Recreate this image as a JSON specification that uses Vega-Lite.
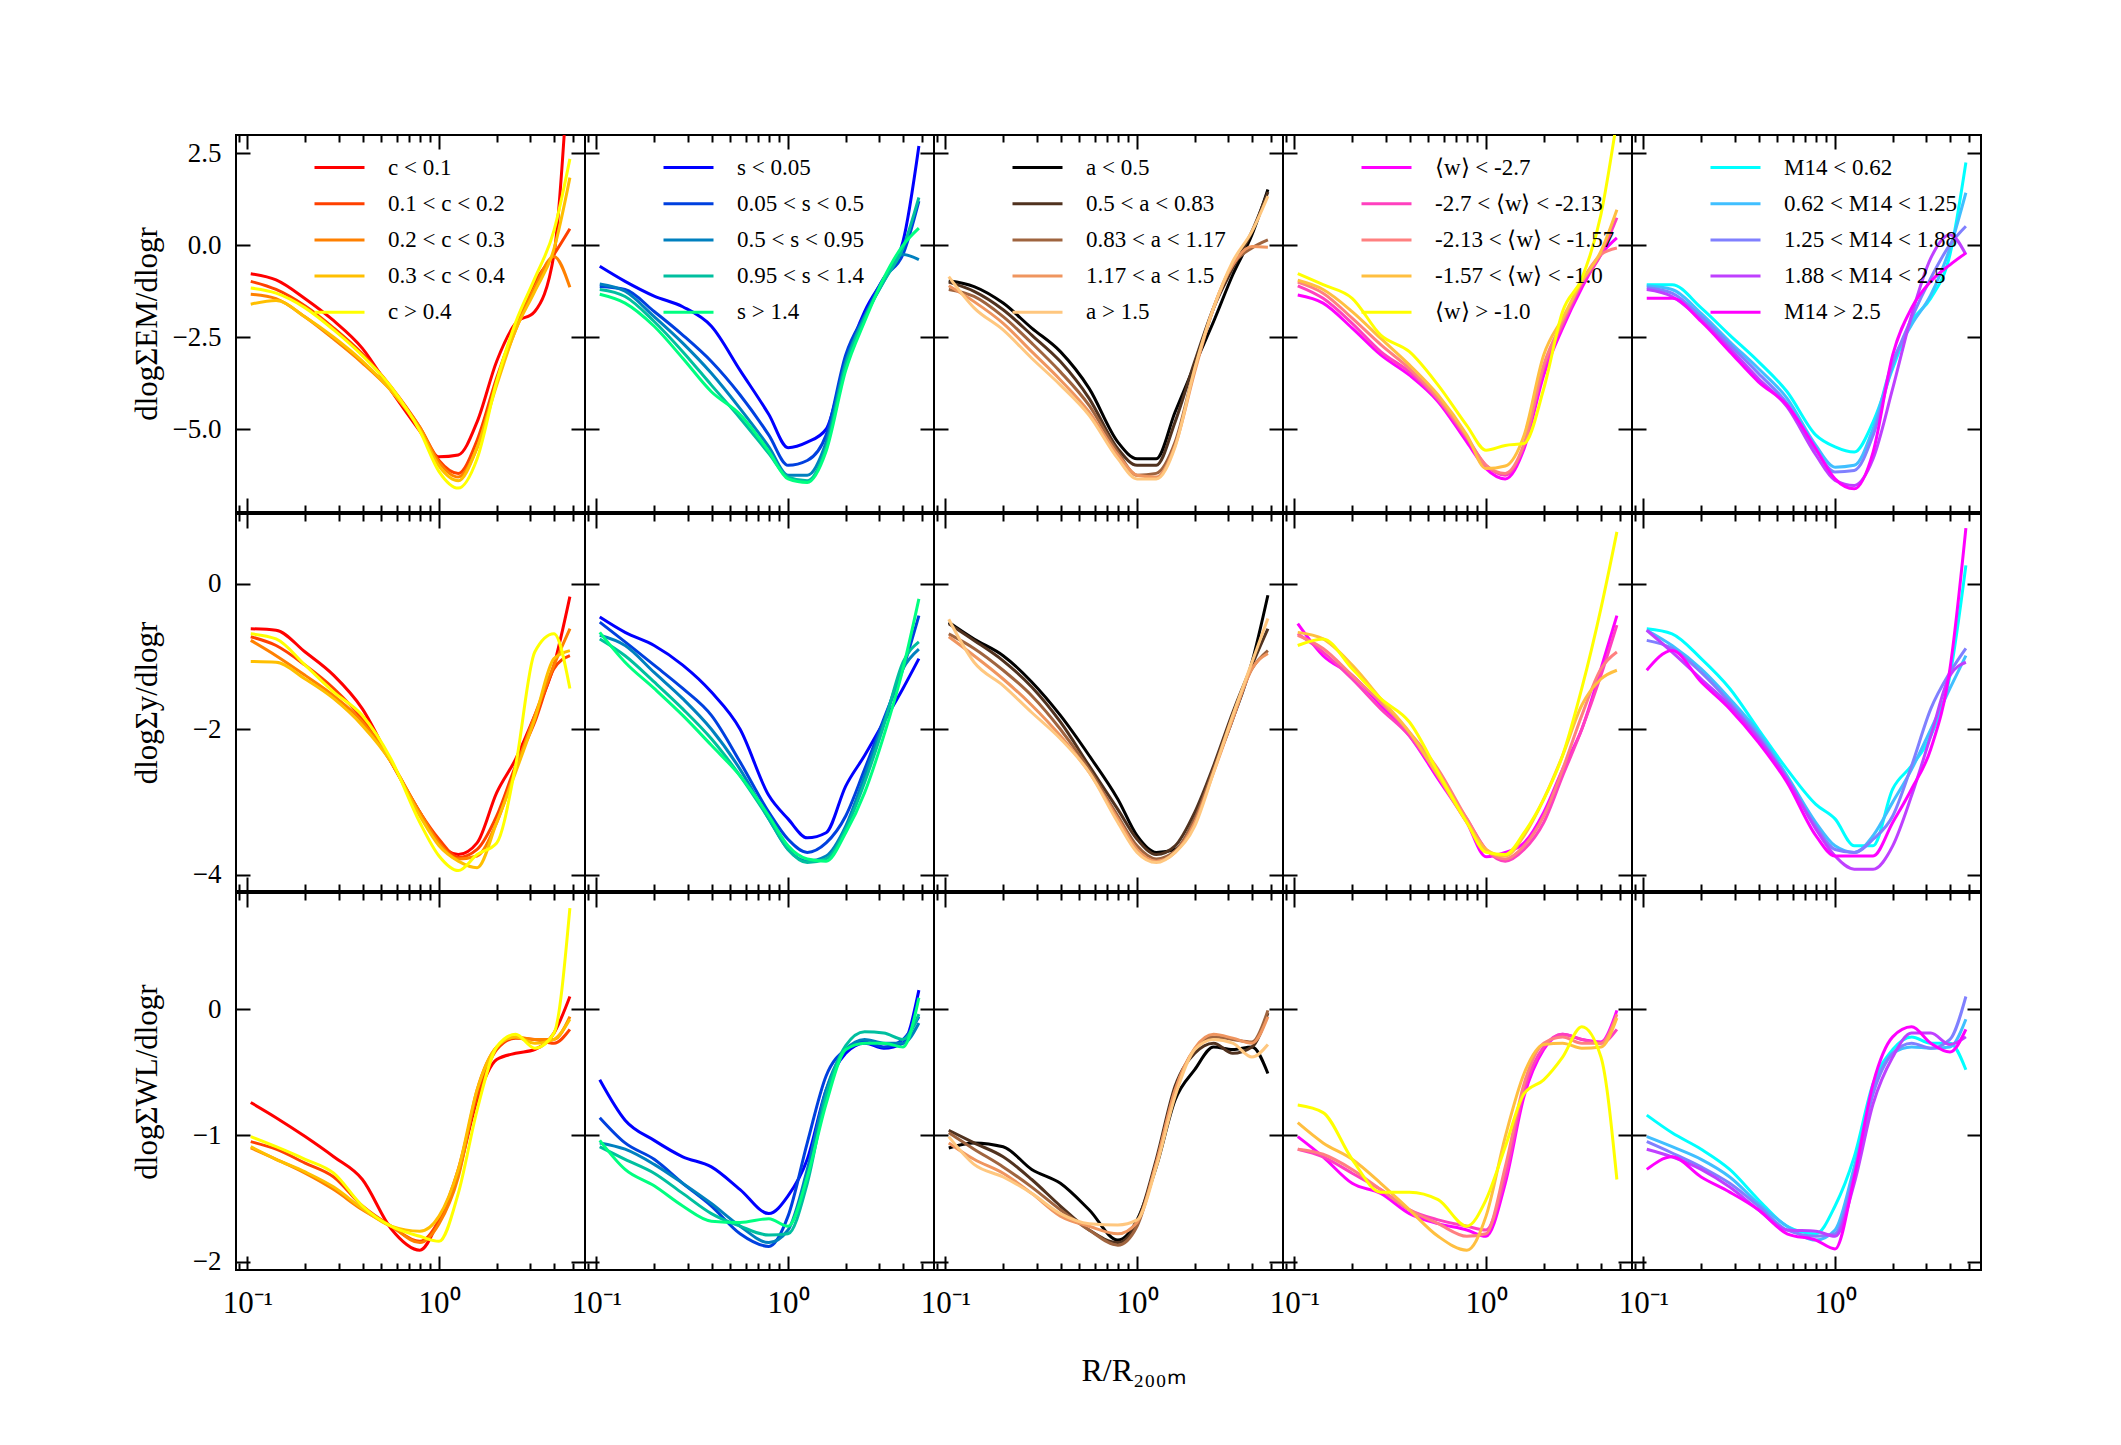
{
"$schema": "https://vega.github.io/schema/vega-lite/v6.json",
"background": "white",
"padding": {"left": 130, "top": 133, "right": 100, "bottom": 50},
"config": {
 "view": {"stroke": "black", "strokeWidth": 2},
 "axis": {"domain": false, "grid": false, "tickColor": "black", "tickWidth": 2, "tickSize": -14, "labels": false, "labelFont": "Liberation Serif", "labelColor": "black", "labelFontSize": 27, "labelOverlap": false, "labelFlush": false, "labelBound": false, "titleFont": "Liberation Serif", "titleColor": "black", "titleFontWeight": "normal", "titleFontSize": 31},
 "axisX": {"labelPadding": 32, "labelFontSize": 31},
 "axisY": {"labelPadding": 29},
 "legend": {"orient": "none", "direction": "vertical", "padding": 0, "labelFont": "Liberation Serif", "labelFontSize": 23, "labelColor": "black", "symbolType": "M-2,0H2", "symbolSize": 625, "symbolStrokeWidth": 3, "rowPadding": 10.2, "labelOffset": 34.5, "labelLimit": 400},
 "concat": {"spacing": 0}
},
"datasets": {
"e0": [
{"g":0,"x":0.104,"y":-0.77},{"g":0,"x":0.141,"y":-0.94},{"g":0,"x":0.2,"y":-1.45},{"g":0,"x":0.282,"y":-2.05},{"g":0,"x":0.398,"y":-2.8},{"g":0,"x":0.562,"y":-3.95},{"g":0,"x":0.794,"y":-5.05},{"g":0,"x":1,"y":-5.75},{"g":0,"x":1.26,"y":-5.7},{"g":0,"x":1.58,"y":-4.8},{"g":0,"x":2,"y":-3.15},{"g":0,"x":2.51,"y":-2.12},{"g":0,"x":3.16,"y":-1.8},{"g":0,"x":3.98,"y":-0.25},{"g":0,"x":4.82,"y":5.5},
{"g":1,"x":0.104,"y":-0.98},{"g":1,"x":0.141,"y":-1.2},{"g":1,"x":0.2,"y":-1.65},{"g":1,"x":0.282,"y":-2.25},{"g":1,"x":0.398,"y":-2.95},{"g":1,"x":0.562,"y":-3.85},{"g":1,"x":0.794,"y":-4.95},{"g":1,"x":1,"y":-5.85},{"g":1,"x":1.26,"y":-6.2},{"g":1,"x":1.58,"y":-5.3},{"g":1,"x":2,"y":-3.6},{"g":1,"x":2.51,"y":-2.2},{"g":1,"x":3.16,"y":-1.0},{"g":1,"x":3.98,"y":-0.25},{"g":1,"x":4.82,"y":0.45},
{"g":2,"x":0.104,"y":-1.33},{"g":2,"x":0.141,"y":-1.45},{"g":2,"x":0.2,"y":-1.95},{"g":2,"x":0.282,"y":-2.55},{"g":2,"x":0.398,"y":-3.2},{"g":2,"x":0.562,"y":-3.95},{"g":2,"x":0.794,"y":-4.95},{"g":2,"x":1,"y":-5.9},{"g":2,"x":1.26,"y":-6.3},{"g":2,"x":1.58,"y":-5.5},{"g":2,"x":2,"y":-3.7},{"g":2,"x":2.51,"y":-2.3},{"g":2,"x":3.16,"y":-1.15},{"g":2,"x":3.98,"y":-0.3},{"g":2,"x":4.82,"y":-1.14},
{"g":3,"x":0.104,"y":-1.6},{"g":3,"x":0.141,"y":-1.5},{"g":3,"x":0.2,"y":-1.95},{"g":3,"x":0.282,"y":-2.5},{"g":3,"x":0.398,"y":-3.15},{"g":3,"x":0.562,"y":-3.95},{"g":3,"x":0.794,"y":-5.0},{"g":3,"x":1,"y":-6.0},{"g":3,"x":1.26,"y":-6.4},{"g":3,"x":1.58,"y":-5.5},{"g":3,"x":2,"y":-3.8},{"g":3,"x":2.51,"y":-2.3},{"g":3,"x":3.16,"y":-1.25},{"g":3,"x":3.98,"y":-0.1},{"g":3,"x":4.82,"y":1.84},
{"g":4,"x":0.104,"y":-1.16},{"g":4,"x":0.141,"y":-1.3},{"g":4,"x":0.2,"y":-1.7},{"g":4,"x":0.282,"y":-2.3},{"g":4,"x":0.398,"y":-3.0},{"g":4,"x":0.562,"y":-3.85},{"g":4,"x":0.794,"y":-5.05},{"g":4,"x":1,"y":-6.15},{"g":4,"x":1.26,"y":-6.6},{"g":4,"x":1.58,"y":-5.8},{"g":4,"x":2,"y":-3.7},{"g":4,"x":2.51,"y":-2.1},{"g":4,"x":3.16,"y":-0.9},{"g":4,"x":3.98,"y":0.4},{"g":4,"x":4.82,"y":2.35}
],
"e1": [
{"g":0,"x":0.104,"y":-0.57},{"g":0,"x":0.141,"y":-0.98},{"g":0,"x":0.2,"y":-1.38},{"g":0,"x":0.282,"y":-1.67},{"g":0,"x":0.398,"y":-2.2},{"g":0,"x":0.562,"y":-3.4},{"g":0,"x":0.794,"y":-4.6},{"g":0,"x":1,"y":-5.5},{"g":0,"x":1.26,"y":-5.35},{"g":0,"x":1.58,"y":-5.0},{"g":0,"x":2,"y":-3.15},{"g":0,"x":2.51,"y":-1.8},{"g":0,"x":3.16,"y":-0.9},{"g":0,"x":3.98,"y":0.1},{"g":0,"x":4.82,"y":2.7},
{"g":1,"x":0.104,"y":-1.12},{"g":1,"x":0.141,"y":-1.2},{"g":1,"x":0.2,"y":-1.8},{"g":1,"x":0.282,"y":-2.44},{"g":1,"x":0.398,"y":-3.16},{"g":1,"x":0.562,"y":-4.07},{"g":1,"x":0.794,"y":-5.16},{"g":1,"x":1,"y":-5.98},{"g":1,"x":1.26,"y":-5.85},{"g":1,"x":1.58,"y":-5.16},{"g":1,"x":2,"y":-2.98},{"g":1,"x":2.51,"y":-1.9},{"g":1,"x":3.16,"y":-0.89},{"g":1,"x":3.98,"y":-0.25},{"g":1,"x":4.82,"y":1.2},
{"g":2,"x":0.104,"y":-1.05},{"g":2,"x":0.141,"y":-1.25},{"g":2,"x":0.2,"y":-1.94},{"g":2,"x":0.282,"y":-2.66},{"g":2,"x":0.398,"y":-3.48},{"g":2,"x":0.562,"y":-4.44},{"g":2,"x":0.794,"y":-5.48},{"g":2,"x":1,"y":-6.25},{"g":2,"x":1.26,"y":-6.25},{"g":2,"x":1.58,"y":-5.35},{"g":2,"x":2,"y":-3.16},{"g":2,"x":2.51,"y":-1.94},{"g":2,"x":3.16,"y":-0.98},{"g":2,"x":3.98,"y":-0.25},{"g":2,"x":4.82,"y":-0.39},
{"g":3,"x":0.104,"y":-1.2},{"g":3,"x":0.141,"y":-1.39},{"g":3,"x":0.2,"y":-2.07},{"g":3,"x":0.282,"y":-2.89},{"g":3,"x":0.398,"y":-3.8},{"g":3,"x":0.562,"y":-4.7},{"g":3,"x":0.794,"y":-5.66},{"g":3,"x":1,"y":-6.3},{"g":3,"x":1.26,"y":-6.4},{"g":3,"x":1.58,"y":-5.5},{"g":3,"x":2,"y":-3.25},{"g":3,"x":2.51,"y":-1.98},{"g":3,"x":3.16,"y":-0.98},{"g":3,"x":3.98,"y":-0.07},{"g":3,"x":4.82,"y":1.3},
{"g":4,"x":0.104,"y":-1.33},{"g":4,"x":0.141,"y":-1.57},{"g":4,"x":0.2,"y":-2.2},{"g":4,"x":0.282,"y":-3.07},{"g":4,"x":0.398,"y":-3.98},{"g":4,"x":0.562,"y":-4.6},{"g":4,"x":0.794,"y":-5.6},{"g":4,"x":1,"y":-6.35},{"g":4,"x":1.26,"y":-6.45},{"g":4,"x":1.58,"y":-5.6},{"g":4,"x":2,"y":-3.4},{"g":4,"x":2.51,"y":-2.07},{"g":4,"x":3.16,"y":-0.89},{"g":4,"x":3.98,"y":0.0},{"g":4,"x":4.82,"y":0.47}
],
"e2": [
{"g":0,"x":0.104,"y":-0.96},{"g":0,"x":0.141,"y":-1.12},{"g":0,"x":0.2,"y":-1.57},{"g":0,"x":0.282,"y":-2.25},{"g":0,"x":0.398,"y":-2.89},{"g":0,"x":0.562,"y":-3.89},{"g":0,"x":0.794,"y":-5.35},{"g":0,"x":1,"y":-5.8},{"g":0,"x":1.26,"y":-5.8},{"g":0,"x":1.58,"y":-4.53},{"g":0,"x":2,"y":-3.25},{"g":0,"x":2.51,"y":-2.07},{"g":0,"x":3.16,"y":-0.8},{"g":0,"x":3.98,"y":0.29},{"g":0,"x":4.82,"y":1.52},
{"g":1,"x":0.104,"y":-1.0},{"g":1,"x":0.141,"y":-1.25},{"g":1,"x":0.2,"y":-1.75},{"g":1,"x":0.282,"y":-2.44},{"g":1,"x":0.398,"y":-3.16},{"g":1,"x":0.562,"y":-4.16},{"g":1,"x":0.794,"y":-5.53},{"g":1,"x":1,"y":-5.98},{"g":1,"x":1.26,"y":-5.98},{"g":1,"x":1.58,"y":-4.8},{"g":1,"x":2,"y":-3.16},{"g":1,"x":2.51,"y":-1.7},{"g":1,"x":3.16,"y":-0.62},{"g":1,"x":3.98,"y":0.38},{"g":1,"x":4.82,"y":1.45},
{"g":2,"x":0.104,"y":-1.2},{"g":2,"x":0.141,"y":-1.39},{"g":2,"x":0.2,"y":-1.94},{"g":2,"x":0.282,"y":-2.66},{"g":2,"x":0.398,"y":-3.44},{"g":2,"x":0.562,"y":-4.35},{"g":2,"x":0.794,"y":-5.62},{"g":2,"x":1,"y":-6.25},{"g":2,"x":1.26,"y":-6.2},{"g":2,"x":1.58,"y":-5.35},{"g":2,"x":2,"y":-3.35},{"g":2,"x":2.51,"y":-1.7},{"g":2,"x":3.16,"y":-0.53},{"g":2,"x":3.98,"y":-0.07},{"g":2,"x":4.82,"y":0.15},
{"g":3,"x":0.104,"y":-1.1},{"g":3,"x":0.141,"y":-1.53},{"g":3,"x":0.2,"y":-2.12},{"g":3,"x":0.282,"y":-2.89},{"g":3,"x":0.398,"y":-3.66},{"g":3,"x":0.562,"y":-4.53},{"g":3,"x":0.794,"y":-5.7},{"g":3,"x":1,"y":-6.25},{"g":3,"x":1.26,"y":-6.3},{"g":3,"x":1.58,"y":-5.44},{"g":3,"x":2,"y":-3.44},{"g":3,"x":2.51,"y":-1.7},{"g":3,"x":3.16,"y":-0.53},{"g":3,"x":3.98,"y":-0.03},{"g":3,"x":4.82,"y":-0.05},
{"g":4,"x":0.104,"y":-0.85},{"g":4,"x":0.141,"y":-1.7},{"g":4,"x":0.2,"y":-2.3},{"g":4,"x":0.282,"y":-3.07},{"g":4,"x":0.398,"y":-3.8},{"g":4,"x":0.562,"y":-4.62},{"g":4,"x":0.794,"y":-5.8},{"g":4,"x":1,"y":-6.35},{"g":4,"x":1.26,"y":-6.35},{"g":4,"x":1.58,"y":-5.48},{"g":4,"x":2,"y":-3.35},{"g":4,"x":2.51,"y":-1.7},{"g":4,"x":3.16,"y":-0.44},{"g":4,"x":3.98,"y":0.38},{"g":4,"x":4.82,"y":1.34}
],
"e3": [
{"g":0,"x":0.104,"y":-1.35},{"g":0,"x":0.141,"y":-1.57},{"g":0,"x":0.2,"y":-2.25},{"g":0,"x":0.282,"y":-2.98},{"g":0,"x":0.398,"y":-3.53},{"g":0,"x":0.562,"y":-4.25},{"g":0,"x":0.794,"y":-5.35},{"g":0,"x":1,"y":-6.07},{"g":0,"x":1.26,"y":-6.35},{"g":0,"x":1.58,"y":-5.53},{"g":0,"x":2,"y":-3.53},{"g":0,"x":2.51,"y":-2.25},{"g":0,"x":3.16,"y":-1.16},{"g":0,"x":3.98,"y":-0.25},{"g":0,"x":4.82,"y":0.2},
{"g":1,"x":0.104,"y":-1.1},{"g":1,"x":0.141,"y":-1.44},{"g":1,"x":0.2,"y":-2.12},{"g":1,"x":0.282,"y":-2.89},{"g":1,"x":0.398,"y":-3.44},{"g":1,"x":0.562,"y":-4.2},{"g":1,"x":0.794,"y":-5.25},{"g":1,"x":1,"y":-5.98},{"g":1,"x":1.26,"y":-6.25},{"g":1,"x":1.58,"y":-5.44},{"g":1,"x":2,"y":-3.35},{"g":1,"x":2.51,"y":-2.16},{"g":1,"x":3.16,"y":-1.07},{"g":1,"x":3.98,"y":-0.25},{"g":1,"x":4.82,"y":0.75},
{"g":2,"x":0.104,"y":-1.0},{"g":2,"x":0.141,"y":-1.3},{"g":2,"x":0.2,"y":-1.98},{"g":2,"x":0.282,"y":-2.7},{"g":2,"x":0.398,"y":-3.35},{"g":2,"x":0.562,"y":-4.16},{"g":2,"x":0.794,"y":-5.2},{"g":2,"x":1,"y":-5.98},{"g":2,"x":1.26,"y":-6.2},{"g":2,"x":1.58,"y":-5.39},{"g":2,"x":2,"y":-3.25},{"g":2,"x":2.51,"y":-2.07},{"g":2,"x":3.16,"y":-0.98},{"g":2,"x":3.98,"y":-0.25},{"g":2,"x":4.82,"y":-0.07},
{"g":3,"x":0.104,"y":-0.95},{"g":3,"x":0.141,"y":-1.2},{"g":3,"x":0.2,"y":-1.8},{"g":3,"x":0.282,"y":-2.53},{"g":3,"x":0.398,"y":-3.25},{"g":3,"x":0.562,"y":-4.07},{"g":3,"x":0.794,"y":-5.16},{"g":3,"x":1,"y":-6.07},{"g":3,"x":1.26,"y":-6.0},{"g":3,"x":1.58,"y":-5.16},{"g":3,"x":2,"y":-2.98},{"g":3,"x":2.51,"y":-1.98},{"g":3,"x":3.16,"y":-0.98},{"g":3,"x":3.98,"y":-0.16},{"g":3,"x":4.82,"y":0.97},
{"g":4,"x":0.104,"y":-0.77},{"g":4,"x":0.141,"y":-1.07},{"g":4,"x":0.2,"y":-1.44},{"g":4,"x":0.282,"y":-2.44},{"g":4,"x":0.398,"y":-2.89},{"g":4,"x":0.562,"y":-3.8},{"g":4,"x":0.794,"y":-4.9},{"g":4,"x":1,"y":-5.57},{"g":4,"x":1.26,"y":-5.44},{"g":4,"x":1.58,"y":-5.39},{"g":4,"x":2,"y":-3.9},{"g":4,"x":2.51,"y":-1.8},{"g":4,"x":3.16,"y":-0.9},{"g":4,"x":3.98,"y":0.84},{"g":4,"x":4.82,"y":3.4}
],
"e4": [
{"g":0,"x":0.104,"y":-1.07},{"g":0,"x":0.141,"y":-1.07},{"g":0,"x":0.2,"y":-1.7},{"g":0,"x":0.282,"y":-2.44},{"g":0,"x":0.398,"y":-3.16},{"g":0,"x":0.562,"y":-3.98},{"g":0,"x":0.794,"y":-5.16},{"g":0,"x":1,"y":-5.48},{"g":0,"x":1.26,"y":-5.62},{"g":0,"x":1.58,"y":-4.8},{"g":0,"x":2,"y":-3.35},{"g":0,"x":2.51,"y":-2.07},{"g":0,"x":3.16,"y":-1.44},{"g":0,"x":3.98,"y":-0.25},{"g":0,"x":4.82,"y":2.25},
{"g":1,"x":0.104,"y":-1.1},{"g":1,"x":0.141,"y":-1.2},{"g":1,"x":0.2,"y":-1.85},{"g":1,"x":0.282,"y":-2.62},{"g":1,"x":0.398,"y":-3.35},{"g":1,"x":0.562,"y":-4.16},{"g":1,"x":0.794,"y":-5.44},{"g":1,"x":1,"y":-6.03},{"g":1,"x":1.26,"y":-5.98},{"g":1,"x":1.58,"y":-4.98},{"g":1,"x":2,"y":-3.16},{"g":1,"x":2.51,"y":-2.16},{"g":1,"x":3.16,"y":-1.35},{"g":1,"x":3.98,"y":-0.07},{"g":1,"x":4.82,"y":1.43},
{"g":2,"x":0.104,"y":-1.15},{"g":2,"x":0.141,"y":-1.3},{"g":2,"x":0.2,"y":-1.94},{"g":2,"x":0.282,"y":-2.7},{"g":2,"x":0.398,"y":-3.48},{"g":2,"x":0.562,"y":-4.3},{"g":2,"x":0.794,"y":-5.57},{"g":2,"x":1,"y":-6.16},{"g":2,"x":1.26,"y":-6.12},{"g":2,"x":1.58,"y":-5.16},{"g":2,"x":2,"y":-3.25},{"g":2,"x":2.51,"y":-1.98},{"g":2,"x":3.16,"y":-0.89},{"g":2,"x":3.98,"y":0.02},{"g":2,"x":4.82,"y":0.52},
{"g":3,"x":0.104,"y":-1.2},{"g":3,"x":0.141,"y":-1.39},{"g":3,"x":0.2,"y":-2.03},{"g":3,"x":0.282,"y":-2.8},{"g":3,"x":0.398,"y":-3.62},{"g":3,"x":0.562,"y":-4.39},{"g":3,"x":0.794,"y":-5.7},{"g":3,"x":1,"y":-6.39},{"g":3,"x":1.26,"y":-6.53},{"g":3,"x":1.58,"y":-5.8},{"g":3,"x":2,"y":-3.89},{"g":3,"x":2.51,"y":-1.9},{"g":3,"x":3.16,"y":-0.35},{"g":3,"x":3.98,"y":0.29},{"g":3,"x":4.82,"y":-0.25},
{"g":4,"x":0.104,"y":-1.44},{"g":4,"x":0.141,"y":-1.44},{"g":4,"x":0.2,"y":-2.07},{"g":4,"x":0.282,"y":-2.89},{"g":4,"x":0.398,"y":-3.71},{"g":4,"x":0.562,"y":-4.35},{"g":4,"x":0.794,"y":-5.53},{"g":4,"x":1,"y":-6.35},{"g":4,"x":1.26,"y":-6.62},{"g":4,"x":1.58,"y":-5.62},{"g":4,"x":2,"y":-2.98},{"g":4,"x":2.51,"y":-1.7},{"g":4,"x":3.16,"y":-0.98},{"g":4,"x":3.98,"y":-0.53},{"g":4,"x":4.82,"y":-0.21}
],
"s0": [
{"g":0,"x":0.104,"y":-0.62},{"g":0,"x":0.141,"y":-0.64},{"g":0,"x":0.2,"y":-0.94},{"g":0,"x":0.282,"y":-1.26},{"g":0,"x":0.398,"y":-1.72},{"g":0,"x":0.562,"y":-2.45},{"g":0,"x":0.794,"y":-3.14},{"g":0,"x":1,"y":-3.56},{"g":0,"x":1.26,"y":-3.72},{"g":0,"x":1.58,"y":-3.56},{"g":0,"x":2,"y":-2.87},{"g":0,"x":2.51,"y":-2.41},{"g":0,"x":3.16,"y":-1.81},{"g":0,"x":3.98,"y":-1.12},{"g":0,"x":4.82,"y":-0.18},
{"g":1,"x":0.104,"y":-0.73},{"g":1,"x":0.141,"y":-0.85},{"g":1,"x":0.2,"y":-1.12},{"g":1,"x":0.282,"y":-1.44},{"g":1,"x":0.398,"y":-1.86},{"g":1,"x":0.562,"y":-2.45},{"g":1,"x":0.794,"y":-3.14},{"g":1,"x":1,"y":-3.51},{"g":1,"x":1.26,"y":-3.76},{"g":1,"x":1.58,"y":-3.65},{"g":1,"x":2,"y":-3.19},{"g":1,"x":2.51,"y":-2.5},{"g":1,"x":3.16,"y":-1.9},{"g":1,"x":3.98,"y":-1.17},{"g":1,"x":4.82,"y":-0.99},
{"g":2,"x":0.104,"y":-0.78},{"g":2,"x":0.141,"y":-0.99},{"g":2,"x":0.2,"y":-1.26},{"g":2,"x":0.282,"y":-1.54},{"g":2,"x":0.398,"y":-1.9},{"g":2,"x":0.562,"y":-2.45},{"g":2,"x":0.794,"y":-3.14},{"g":2,"x":1,"y":-3.56},{"g":2,"x":1.26,"y":-3.78},{"g":2,"x":1.58,"y":-3.74},{"g":2,"x":2,"y":-3.28},{"g":2,"x":2.51,"y":-2.55},{"g":2,"x":3.16,"y":-1.81},{"g":2,"x":3.98,"y":-1.12},{"g":2,"x":4.82,"y":-0.62},
{"g":3,"x":0.104,"y":-1.07},{"g":3,"x":0.141,"y":-1.08},{"g":3,"x":0.2,"y":-1.31},{"g":3,"x":0.282,"y":-1.58},{"g":3,"x":0.398,"y":-1.95},{"g":3,"x":0.562,"y":-2.45},{"g":3,"x":0.794,"y":-3.19},{"g":3,"x":1,"y":-3.6},{"g":3,"x":1.26,"y":-3.81},{"g":3,"x":1.58,"y":-3.9},{"g":3,"x":2,"y":-3.28},{"g":3,"x":2.51,"y":-2.59},{"g":3,"x":3.16,"y":-1.86},{"g":3,"x":3.98,"y":-1.03},{"g":3,"x":4.82,"y":-0.92},
{"g":4,"x":0.104,"y":-0.69},{"g":4,"x":0.141,"y":-0.76},{"g":4,"x":0.2,"y":-1.12},{"g":4,"x":0.282,"y":-1.49},{"g":4,"x":0.398,"y":-1.81},{"g":4,"x":0.562,"y":-2.41},{"g":4,"x":0.794,"y":-3.28},{"g":4,"x":1,"y":-3.74},{"g":4,"x":1.26,"y":-3.94},{"g":4,"x":1.58,"y":-3.72},{"g":4,"x":2,"y":-3.56},{"g":4,"x":2.51,"y":-2.5},{"g":4,"x":3.16,"y":-0.94},{"g":4,"x":3.98,"y":-0.69},{"g":4,"x":4.82,"y":-1.44}
],
"s1": [
{"g":0,"x":0.104,"y":-0.46},{"g":0,"x":0.141,"y":-0.67},{"g":0,"x":0.2,"y":-0.85},{"g":0,"x":0.282,"y":-1.12},{"g":0,"x":0.398,"y":-1.49},{"g":0,"x":0.562,"y":-2.0},{"g":0,"x":0.794,"y":-2.91},{"g":0,"x":1,"y":-3.23},{"g":0,"x":1.26,"y":-3.49},{"g":0,"x":1.58,"y":-3.42},{"g":0,"x":2,"y":-2.78},{"g":0,"x":2.51,"y":-2.36},{"g":0,"x":3.16,"y":-1.9},{"g":0,"x":3.98,"y":-1.44},{"g":0,"x":4.82,"y":-1.03},
{"g":1,"x":0.104,"y":-0.53},{"g":1,"x":0.141,"y":-0.8},{"g":1,"x":0.2,"y":-1.12},{"g":1,"x":0.282,"y":-1.44},{"g":1,"x":0.398,"y":-1.81},{"g":1,"x":0.562,"y":-2.45},{"g":1,"x":0.794,"y":-3.14},{"g":1,"x":1,"y":-3.51},{"g":1,"x":1.26,"y":-3.69},{"g":1,"x":1.58,"y":-3.56},{"g":1,"x":2,"y":-3.19},{"g":1,"x":2.51,"y":-2.55},{"g":1,"x":3.16,"y":-1.86},{"g":1,"x":3.98,"y":-1.17},{"g":1,"x":4.82,"y":-0.44},
{"g":2,"x":0.104,"y":-0.71},{"g":2,"x":0.141,"y":-0.85},{"g":2,"x":0.2,"y":-1.22},{"g":2,"x":0.282,"y":-1.58},{"g":2,"x":0.398,"y":-2.0},{"g":2,"x":0.562,"y":-2.55},{"g":2,"x":0.794,"y":-3.23},{"g":2,"x":1,"y":-3.65},{"g":2,"x":1.26,"y":-3.81},{"g":2,"x":1.58,"y":-3.74},{"g":2,"x":2,"y":-3.33},{"g":2,"x":2.51,"y":-2.64},{"g":2,"x":3.16,"y":-1.9},{"g":2,"x":3.98,"y":-1.17},{"g":2,"x":4.82,"y":-0.9},
{"g":3,"x":0.104,"y":-0.76},{"g":3,"x":0.141,"y":-0.99},{"g":3,"x":0.2,"y":-1.35},{"g":3,"x":0.282,"y":-1.72},{"g":3,"x":0.398,"y":-2.13},{"g":3,"x":0.562,"y":-2.64},{"g":3,"x":0.794,"y":-3.23},{"g":3,"x":1,"y":-3.65},{"g":3,"x":1.26,"y":-3.83},{"g":3,"x":1.58,"y":-3.78},{"g":3,"x":2,"y":-3.37},{"g":3,"x":2.51,"y":-2.73},{"g":3,"x":3.16,"y":-1.95},{"g":3,"x":3.98,"y":-1.08},{"g":3,"x":4.82,"y":-0.8},
{"g":4,"x":0.104,"y":-0.67},{"g":4,"x":0.141,"y":-1.08},{"g":4,"x":0.2,"y":-1.44},{"g":4,"x":0.282,"y":-1.81},{"g":4,"x":0.398,"y":-2.22},{"g":4,"x":0.562,"y":-2.64},{"g":4,"x":0.794,"y":-3.19},{"g":4,"x":1,"y":-3.6},{"g":4,"x":1.26,"y":-3.78},{"g":4,"x":1.58,"y":-3.81},{"g":4,"x":2,"y":-3.42},{"g":4,"x":2.51,"y":-2.87},{"g":4,"x":3.16,"y":-2.09},{"g":4,"x":3.98,"y":-1.17},{"g":4,"x":4.82,"y":-0.21}
],
"s2": [
{"g":0,"x":0.104,"y":-0.53},{"g":0,"x":0.141,"y":-0.76},{"g":0,"x":0.2,"y":-0.99},{"g":0,"x":0.282,"y":-1.35},{"g":0,"x":0.398,"y":-1.81},{"g":0,"x":0.562,"y":-2.36},{"g":0,"x":0.794,"y":-2.96},{"g":0,"x":1,"y":-3.46},{"g":0,"x":1.26,"y":-3.69},{"g":0,"x":1.58,"y":-3.65},{"g":0,"x":2,"y":-3.23},{"g":0,"x":2.51,"y":-2.55},{"g":0,"x":3.16,"y":-1.86},{"g":0,"x":3.98,"y":-1.08},{"g":0,"x":4.82,"y":-0.16},
{"g":1,"x":0.104,"y":-0.55},{"g":1,"x":0.141,"y":-0.78},{"g":1,"x":0.2,"y":-1.06},{"g":1,"x":0.282,"y":-1.42},{"g":1,"x":0.398,"y":-1.9},{"g":1,"x":0.562,"y":-2.5},{"g":1,"x":0.794,"y":-3.1},{"g":1,"x":1,"y":-3.51},{"g":1,"x":1.26,"y":-3.72},{"g":1,"x":1.58,"y":-3.6},{"g":1,"x":2,"y":-3.14},{"g":1,"x":2.51,"y":-2.5},{"g":1,"x":3.16,"y":-1.77},{"g":1,"x":3.98,"y":-1.12},{"g":1,"x":4.82,"y":-0.62},
{"g":2,"x":0.104,"y":-0.69},{"g":2,"x":0.141,"y":-0.89},{"g":2,"x":0.2,"y":-1.19},{"g":2,"x":0.282,"y":-1.54},{"g":2,"x":0.398,"y":-2.0},{"g":2,"x":0.562,"y":-2.55},{"g":2,"x":0.794,"y":-3.19},{"g":2,"x":1,"y":-3.6},{"g":2,"x":1.26,"y":-3.78},{"g":2,"x":1.58,"y":-3.67},{"g":2,"x":2,"y":-3.23},{"g":2,"x":2.51,"y":-2.55},{"g":2,"x":3.16,"y":-1.81},{"g":2,"x":3.98,"y":-1.17},{"g":2,"x":4.82,"y":-0.92},
{"g":3,"x":0.104,"y":-0.73},{"g":3,"x":0.141,"y":-0.99},{"g":3,"x":0.2,"y":-1.31},{"g":3,"x":0.282,"y":-1.67},{"g":3,"x":0.398,"y":-2.09},{"g":3,"x":0.562,"y":-2.59},{"g":3,"x":0.794,"y":-3.23},{"g":3,"x":1,"y":-3.65},{"g":3,"x":1.26,"y":-3.81},{"g":3,"x":1.58,"y":-3.69},{"g":3,"x":2,"y":-3.28},{"g":3,"x":2.51,"y":-2.59},{"g":3,"x":3.16,"y":-1.86},{"g":3,"x":3.98,"y":-1.17},{"g":3,"x":4.82,"y":-0.96},
{"g":4,"x":0.104,"y":-0.49},{"g":4,"x":0.141,"y":-1.08},{"g":4,"x":0.2,"y":-1.4},{"g":4,"x":0.282,"y":-1.77},{"g":4,"x":0.398,"y":-2.13},{"g":4,"x":0.562,"y":-2.59},{"g":4,"x":0.794,"y":-3.28},{"g":4,"x":1,"y":-3.69},{"g":4,"x":1.26,"y":-3.83},{"g":4,"x":1.58,"y":-3.69},{"g":4,"x":2,"y":-3.33},{"g":4,"x":2.51,"y":-2.59},{"g":4,"x":3.16,"y":-1.81},{"g":4,"x":3.98,"y":-1.08},{"g":4,"x":4.82,"y":-0.48}
],
"s3": [
{"g":0,"x":0.104,"y":-0.55},{"g":0,"x":0.141,"y":-0.99},{"g":0,"x":0.2,"y":-1.26},{"g":0,"x":0.282,"y":-1.67},{"g":0,"x":0.398,"y":-2.09},{"g":0,"x":0.562,"y":-2.68},{"g":0,"x":0.794,"y":-3.28},{"g":0,"x":1,"y":-3.75},{"g":0,"x":1.26,"y":-3.69},{"g":0,"x":1.58,"y":-3.56},{"g":0,"x":2,"y":-3.14},{"g":0,"x":2.51,"y":-2.55},{"g":0,"x":3.16,"y":-2.0},{"g":0,"x":3.98,"y":-1.17},{"g":0,"x":4.82,"y":-0.44},
{"g":1,"x":0.104,"y":-0.69},{"g":1,"x":0.141,"y":-0.94},{"g":1,"x":0.2,"y":-1.31},{"g":1,"x":0.282,"y":-1.72},{"g":1,"x":0.398,"y":-2.09},{"g":1,"x":0.562,"y":-2.64},{"g":1,"x":0.794,"y":-3.23},{"g":1,"x":1,"y":-3.65},{"g":1,"x":1.26,"y":-3.81},{"g":1,"x":1.58,"y":-3.65},{"g":1,"x":2,"y":-3.28},{"g":1,"x":2.51,"y":-2.64},{"g":1,"x":3.16,"y":-2.0},{"g":1,"x":3.98,"y":-1.26},{"g":1,"x":4.82,"y":-0.57},
{"g":2,"x":0.104,"y":-0.71},{"g":2,"x":0.141,"y":-0.89},{"g":2,"x":0.2,"y":-1.26},{"g":2,"x":0.282,"y":-1.63},{"g":2,"x":0.398,"y":-2.04},{"g":2,"x":0.562,"y":-2.55},{"g":2,"x":0.794,"y":-3.23},{"g":2,"x":1,"y":-3.65},{"g":2,"x":1.26,"y":-3.78},{"g":2,"x":1.58,"y":-3.6},{"g":2,"x":2,"y":-3.19},{"g":2,"x":2.51,"y":-2.55},{"g":2,"x":3.16,"y":-1.81},{"g":2,"x":3.98,"y":-1.17},{"g":2,"x":4.82,"y":-0.94},
{"g":3,"x":0.104,"y":-0.67},{"g":3,"x":0.141,"y":-0.76},{"g":3,"x":0.2,"y":-1.12},{"g":3,"x":0.282,"y":-1.58},{"g":3,"x":0.398,"y":-2.04},{"g":3,"x":0.562,"y":-2.64},{"g":3,"x":0.794,"y":-3.28},{"g":3,"x":1,"y":-3.65},{"g":3,"x":1.26,"y":-3.74},{"g":3,"x":1.58,"y":-3.46},{"g":3,"x":2,"y":-2.96},{"g":3,"x":2.51,"y":-2.36},{"g":3,"x":3.16,"y":-1.67},{"g":3,"x":3.98,"y":-1.31},{"g":3,"x":4.82,"y":-1.19},
{"g":4,"x":0.104,"y":-0.85},{"g":4,"x":0.141,"y":-0.76},{"g":4,"x":0.2,"y":-1.17},{"g":4,"x":0.282,"y":-1.58},{"g":4,"x":0.398,"y":-1.9},{"g":4,"x":0.562,"y":-2.59},{"g":4,"x":0.794,"y":-3.28},{"g":4,"x":1,"y":-3.69},{"g":4,"x":1.26,"y":-3.72},{"g":4,"x":1.58,"y":-3.42},{"g":4,"x":2,"y":-2.96},{"g":4,"x":2.51,"y":-2.36},{"g":4,"x":3.16,"y":-1.44},{"g":4,"x":3.98,"y":-0.34},{"g":4,"x":4.82,"y":0.71}
],
"s4": [
{"g":0,"x":0.104,"y":-0.62},{"g":0,"x":0.141,"y":-0.69},{"g":0,"x":0.2,"y":-1.03},{"g":0,"x":0.282,"y":-1.44},{"g":0,"x":0.398,"y":-2.0},{"g":0,"x":0.562,"y":-2.55},{"g":0,"x":0.794,"y":-3.03},{"g":0,"x":1,"y":-3.23},{"g":0,"x":1.26,"y":-3.6},{"g":0,"x":1.58,"y":-3.6},{"g":0,"x":2,"y":-2.82},{"g":0,"x":2.51,"y":-2.5},{"g":0,"x":3.16,"y":-2.09},{"g":0,"x":3.98,"y":-1.26},{"g":0,"x":4.82,"y":0.25},
{"g":1,"x":0.104,"y":-0.64},{"g":1,"x":0.141,"y":-0.85},{"g":1,"x":0.2,"y":-1.17},{"g":1,"x":0.282,"y":-1.58},{"g":1,"x":0.398,"y":-2.04},{"g":1,"x":0.562,"y":-2.64},{"g":1,"x":0.794,"y":-3.28},{"g":1,"x":1,"y":-3.6},{"g":1,"x":1.26,"y":-3.69},{"g":1,"x":1.58,"y":-3.46},{"g":1,"x":2,"y":-3.0},{"g":1,"x":2.51,"y":-2.55},{"g":1,"x":3.16,"y":-2.0},{"g":1,"x":3.98,"y":-1.44},{"g":1,"x":4.82,"y":-0.99},
{"g":2,"x":0.104,"y":-0.78},{"g":2,"x":0.141,"y":-0.89},{"g":2,"x":0.2,"y":-1.22},{"g":2,"x":0.282,"y":-1.63},{"g":2,"x":0.398,"y":-2.09},{"g":2,"x":0.562,"y":-2.68},{"g":2,"x":0.794,"y":-3.33},{"g":2,"x":1,"y":-3.65},{"g":2,"x":1.26,"y":-3.69},{"g":2,"x":1.58,"y":-3.51},{"g":2,"x":2,"y":-3.19},{"g":2,"x":2.51,"y":-2.5},{"g":2,"x":3.16,"y":-1.72},{"g":2,"x":3.98,"y":-1.22},{"g":2,"x":4.82,"y":-0.89},
{"g":3,"x":0.104,"y":-0.64},{"g":3,"x":0.141,"y":-0.94},{"g":3,"x":0.2,"y":-1.31},{"g":3,"x":0.282,"y":-1.67},{"g":3,"x":0.398,"y":-2.13},{"g":3,"x":0.562,"y":-2.68},{"g":3,"x":0.794,"y":-3.37},{"g":3,"x":1,"y":-3.74},{"g":3,"x":1.26,"y":-3.92},{"g":3,"x":1.58,"y":-3.92},{"g":3,"x":2,"y":-3.6},{"g":3,"x":2.51,"y":-2.91},{"g":3,"x":3.16,"y":-2.09},{"g":3,"x":3.98,"y":-1.26},{"g":3,"x":4.82,"y":-1.08},
{"g":4,"x":0.104,"y":-1.19},{"g":4,"x":0.141,"y":-0.92},{"g":4,"x":0.2,"y":-1.35},{"g":4,"x":0.282,"y":-1.72},{"g":4,"x":0.398,"y":-2.18},{"g":4,"x":0.562,"y":-2.73},{"g":4,"x":0.794,"y":-3.46},{"g":4,"x":1,"y":-3.74},{"g":4,"x":1.26,"y":-3.74},{"g":4,"x":1.58,"y":-3.74},{"g":4,"x":2,"y":-3.28},{"g":4,"x":2.51,"y":-2.82},{"g":4,"x":3.16,"y":-2.27},{"g":4,"x":3.98,"y":-1.17},{"g":4,"x":4.82,"y":0.76}
],
"w0": [
{"g":0,"x":0.104,"y":-0.74},{"g":0,"x":0.141,"y":-0.86},{"g":0,"x":0.2,"y":-1.01},{"g":0,"x":0.282,"y":-1.17},{"g":0,"x":0.398,"y":-1.35},{"g":0,"x":0.562,"y":-1.74},{"g":0,"x":0.794,"y":-1.91},{"g":0,"x":1,"y":-1.67},{"g":0,"x":1.26,"y":-1.3},{"g":0,"x":1.58,"y":-0.72},{"g":0,"x":2,"y":-0.4},{"g":0,"x":2.51,"y":-0.35},{"g":0,"x":3.16,"y":-0.32},{"g":0,"x":3.98,"y":-0.19},{"g":0,"x":4.82,"y":0.1},
{"g":1,"x":0.104,"y":-1.05},{"g":1,"x":0.141,"y":-1.11},{"g":1,"x":0.2,"y":-1.22},{"g":1,"x":0.282,"y":-1.33},{"g":1,"x":0.398,"y":-1.56},{"g":1,"x":0.562,"y":-1.72},{"g":1,"x":0.794,"y":-1.84},{"g":1,"x":1,"y":-1.67},{"g":1,"x":1.26,"y":-1.27},{"g":1,"x":1.58,"y":-0.69},{"g":1,"x":2,"y":-0.32},{"g":1,"x":2.51,"y":-0.23},{"g":1,"x":3.16,"y":-0.24},{"g":1,"x":3.98,"y":-0.27},{"g":1,"x":4.82,"y":-0.16},
{"g":2,"x":0.104,"y":-1.1},{"g":2,"x":0.141,"y":-1.19},{"g":2,"x":0.2,"y":-1.3},{"g":2,"x":0.282,"y":-1.43},{"g":2,"x":0.398,"y":-1.59},{"g":2,"x":0.562,"y":-1.72},{"g":2,"x":0.794,"y":-1.85},{"g":2,"x":1,"y":-1.7},{"g":2,"x":1.26,"y":-1.33},{"g":2,"x":1.58,"y":-0.64},{"g":2,"x":2,"y":-0.3},{"g":2,"x":2.51,"y":-0.22},{"g":2,"x":3.16,"y":-0.24},{"g":2,"x":3.98,"y":-0.24},{"g":2,"x":4.82,"y":-0.06},
{"g":3,"x":0.104,"y":-1.09},{"g":3,"x":0.141,"y":-1.19},{"g":3,"x":0.2,"y":-1.29},{"g":3,"x":0.282,"y":-1.41},{"g":3,"x":0.398,"y":-1.58},{"g":3,"x":0.562,"y":-1.72},{"g":3,"x":0.794,"y":-1.76},{"g":3,"x":1,"y":-1.64},{"g":3,"x":1.26,"y":-1.27},{"g":3,"x":1.58,"y":-0.64},{"g":3,"x":2,"y":-0.3},{"g":3,"x":2.51,"y":-0.22},{"g":3,"x":3.16,"y":-0.27},{"g":3,"x":3.98,"y":-0.24},{"g":3,"x":4.82,"y":-0.08},
{"g":4,"x":0.104,"y":-1.01},{"g":4,"x":0.141,"y":-1.09},{"g":4,"x":0.2,"y":-1.19},{"g":4,"x":0.282,"y":-1.3},{"g":4,"x":0.398,"y":-1.56},{"g":4,"x":0.562,"y":-1.72},{"g":4,"x":0.794,"y":-1.8},{"g":4,"x":1,"y":-1.84},{"g":4,"x":1.26,"y":-1.46},{"g":4,"x":1.58,"y":-0.8},{"g":4,"x":2,"y":-0.3},{"g":4,"x":2.51,"y":-0.2},{"g":4,"x":3.16,"y":-0.31},{"g":4,"x":3.98,"y":-0.19},{"g":4,"x":4.82,"y":0.8}
],
"w1": [
{"g":0,"x":0.104,"y":-0.56},{"g":0,"x":0.141,"y":-0.88},{"g":0,"x":0.2,"y":-1.04},{"g":0,"x":0.282,"y":-1.17},{"g":0,"x":0.398,"y":-1.25},{"g":0,"x":0.562,"y":-1.43},{"g":0,"x":0.794,"y":-1.62},{"g":0,"x":1,"y":-1.48},{"g":0,"x":1.26,"y":-1.19},{"g":0,"x":1.58,"y":-0.64},{"g":0,"x":2,"y":-0.35},{"g":0,"x":2.51,"y":-0.27},{"g":0,"x":3.16,"y":-0.31},{"g":0,"x":3.98,"y":-0.27},{"g":0,"x":4.82,"y":0.15},
{"g":1,"x":0.104,"y":-0.86},{"g":1,"x":0.141,"y":-1.06},{"g":1,"x":0.2,"y":-1.19},{"g":1,"x":0.282,"y":-1.38},{"g":1,"x":0.398,"y":-1.56},{"g":1,"x":0.562,"y":-1.78},{"g":1,"x":0.794,"y":-1.88},{"g":1,"x":1,"y":-1.64},{"g":1,"x":1.26,"y":-1.06},{"g":1,"x":1.58,"y":-0.53},{"g":1,"x":2,"y":-0.32},{"g":1,"x":2.51,"y":-0.26},{"g":1,"x":3.16,"y":-0.3},{"g":1,"x":3.98,"y":-0.24},{"g":1,"x":4.82,"y":-0.06},
{"g":2,"x":0.104,"y":-1.06},{"g":2,"x":0.141,"y":-1.11},{"g":2,"x":0.2,"y":-1.23},{"g":2,"x":0.282,"y":-1.38},{"g":2,"x":0.398,"y":-1.54},{"g":2,"x":0.562,"y":-1.72},{"g":2,"x":0.794,"y":-1.85},{"g":2,"x":1,"y":-1.75},{"g":2,"x":1.26,"y":-1.27},{"g":2,"x":1.58,"y":-0.64},{"g":2,"x":2,"y":-0.32},{"g":2,"x":2.51,"y":-0.24},{"g":2,"x":3.16,"y":-0.27},{"g":2,"x":3.98,"y":-0.27},{"g":2,"x":4.82,"y":-0.11},
{"g":3,"x":0.104,"y":-1.09},{"g":3,"x":0.141,"y":-1.19},{"g":3,"x":0.2,"y":-1.3},{"g":3,"x":0.282,"y":-1.46},{"g":3,"x":0.398,"y":-1.62},{"g":3,"x":0.562,"y":-1.72},{"g":3,"x":0.794,"y":-1.79},{"g":3,"x":1,"y":-1.78},{"g":3,"x":1.26,"y":-1.38},{"g":3,"x":1.58,"y":-0.69},{"g":3,"x":2,"y":-0.29},{"g":3,"x":2.51,"y":-0.18},{"g":3,"x":3.16,"y":-0.19},{"g":3,"x":3.98,"y":-0.24},{"g":3,"x":4.82,"y":-0.04},
{"g":4,"x":0.104,"y":-1.04},{"g":4,"x":0.141,"y":-1.27},{"g":4,"x":0.2,"y":-1.4},{"g":4,"x":0.282,"y":-1.56},{"g":4,"x":0.398,"y":-1.68},{"g":4,"x":0.562,"y":-1.69},{"g":4,"x":0.794,"y":-1.66},{"g":4,"x":1,"y":-1.72},{"g":4,"x":1.26,"y":-1.33},{"g":4,"x":1.58,"y":-0.75},{"g":4,"x":2,"y":-0.32},{"g":4,"x":2.51,"y":-0.27},{"g":4,"x":3.16,"y":-0.27},{"g":4,"x":3.98,"y":-0.3},{"g":4,"x":4.82,"y":0.09}
],
"w2": [
{"g":0,"x":0.104,"y":-1.1},{"g":0,"x":0.141,"y":-1.06},{"g":0,"x":0.2,"y":-1.09},{"g":0,"x":0.282,"y":-1.27},{"g":0,"x":0.398,"y":-1.38},{"g":0,"x":0.562,"y":-1.59},{"g":0,"x":0.794,"y":-1.83},{"g":0,"x":1,"y":-1.67},{"g":0,"x":1.26,"y":-1.25},{"g":0,"x":1.58,"y":-0.72},{"g":0,"x":2,"y":-0.48},{"g":0,"x":2.51,"y":-0.3},{"g":0,"x":3.16,"y":-0.32},{"g":0,"x":3.98,"y":-0.3},{"g":0,"x":4.82,"y":-0.51},
{"g":1,"x":0.104,"y":-0.96},{"g":1,"x":0.141,"y":-1.06},{"g":1,"x":0.2,"y":-1.17},{"g":1,"x":0.282,"y":-1.35},{"g":1,"x":0.398,"y":-1.56},{"g":1,"x":0.562,"y":-1.75},{"g":1,"x":0.794,"y":-1.85},{"g":1,"x":1,"y":-1.69},{"g":1,"x":1.26,"y":-1.19},{"g":1,"x":1.58,"y":-0.61},{"g":1,"x":2,"y":-0.35},{"g":1,"x":2.51,"y":-0.27},{"g":1,"x":3.16,"y":-0.35},{"g":1,"x":3.98,"y":-0.3},{"g":1,"x":4.82,"y":-0.03},
{"g":2,"x":0.104,"y":-0.98},{"g":2,"x":0.141,"y":-1.11},{"g":2,"x":0.2,"y":-1.25},{"g":2,"x":0.282,"y":-1.41},{"g":2,"x":0.398,"y":-1.59},{"g":2,"x":0.562,"y":-1.75},{"g":2,"x":0.794,"y":-1.87},{"g":2,"x":1,"y":-1.72},{"g":2,"x":1.26,"y":-1.22},{"g":2,"x":1.58,"y":-0.64},{"g":2,"x":2,"y":-0.32},{"g":2,"x":2.51,"y":-0.22},{"g":2,"x":3.16,"y":-0.24},{"g":2,"x":3.98,"y":-0.26},{"g":2,"x":4.82,"y":-0.01},
{"g":3,"x":0.104,"y":-1.06},{"g":3,"x":0.141,"y":-1.19},{"g":3,"x":0.2,"y":-1.3},{"g":3,"x":0.282,"y":-1.46},{"g":3,"x":0.398,"y":-1.64},{"g":3,"x":0.562,"y":-1.72},{"g":3,"x":0.794,"y":-1.78},{"g":3,"x":1,"y":-1.69},{"g":3,"x":1.26,"y":-1.22},{"g":3,"x":1.58,"y":-0.64},{"g":3,"x":2,"y":-0.31},{"g":3,"x":2.51,"y":-0.2},{"g":3,"x":3.16,"y":-0.23},{"g":3,"x":3.98,"y":-0.27},{"g":3,"x":4.82,"y":-0.06},
{"g":4,"x":0.104,"y":-1.01},{"g":4,"x":0.141,"y":-1.23},{"g":4,"x":0.2,"y":-1.33},{"g":4,"x":0.282,"y":-1.46},{"g":4,"x":0.398,"y":-1.62},{"g":4,"x":0.562,"y":-1.7},{"g":4,"x":0.794,"y":-1.71},{"g":4,"x":1,"y":-1.67},{"g":4,"x":1.26,"y":-1.25},{"g":4,"x":1.58,"y":-0.69},{"g":4,"x":2,"y":-0.32},{"g":4,"x":2.51,"y":-0.24},{"g":4,"x":3.16,"y":-0.27},{"g":4,"x":3.98,"y":-0.38},{"g":4,"x":4.82,"y":-0.28}
],
"w3": [
{"g":0,"x":0.104,"y":-1.01},{"g":0,"x":0.141,"y":-1.17},{"g":0,"x":0.2,"y":-1.38},{"g":0,"x":0.282,"y":-1.46},{"g":0,"x":0.398,"y":-1.62},{"g":0,"x":0.562,"y":-1.7},{"g":0,"x":0.794,"y":-1.75},{"g":0,"x":1,"y":-1.8},{"g":0,"x":1.26,"y":-1.38},{"g":0,"x":1.58,"y":-0.69},{"g":0,"x":2,"y":-0.32},{"g":0,"x":2.51,"y":-0.2},{"g":0,"x":3.16,"y":-0.24},{"g":0,"x":3.98,"y":-0.26},{"g":0,"x":4.82,"y":-0.01},
{"g":1,"x":0.104,"y":-1.11},{"g":1,"x":0.141,"y":-1.17},{"g":1,"x":0.2,"y":-1.3},{"g":1,"x":0.282,"y":-1.43},{"g":1,"x":0.398,"y":-1.59},{"g":1,"x":0.562,"y":-1.67},{"g":1,"x":0.794,"y":-1.72},{"g":1,"x":1,"y":-1.75},{"g":1,"x":1.26,"y":-1.33},{"g":1,"x":1.58,"y":-0.64},{"g":1,"x":2,"y":-0.3},{"g":1,"x":2.51,"y":-0.2},{"g":1,"x":3.16,"y":-0.24},{"g":1,"x":3.98,"y":-0.27},{"g":1,"x":4.82,"y":-0.16},
{"g":2,"x":0.104,"y":-1.11},{"g":2,"x":0.141,"y":-1.15},{"g":2,"x":0.2,"y":-1.27},{"g":2,"x":0.282,"y":-1.43},{"g":2,"x":0.398,"y":-1.59},{"g":2,"x":0.562,"y":-1.7},{"g":2,"x":0.794,"y":-1.8},{"g":2,"x":1,"y":-1.78},{"g":2,"x":1.26,"y":-1.25},{"g":2,"x":1.58,"y":-0.59},{"g":2,"x":2,"y":-0.27},{"g":2,"x":2.51,"y":-0.22},{"g":2,"x":3.16,"y":-0.27},{"g":2,"x":3.98,"y":-0.27},{"g":2,"x":4.82,"y":-0.04},
{"g":3,"x":0.104,"y":-0.9},{"g":3,"x":0.141,"y":-1.06},{"g":3,"x":0.2,"y":-1.19},{"g":3,"x":0.282,"y":-1.38},{"g":3,"x":0.398,"y":-1.59},{"g":3,"x":0.562,"y":-1.8},{"g":3,"x":0.794,"y":-1.91},{"g":3,"x":1,"y":-1.64},{"g":3,"x":1.26,"y":-1.01},{"g":3,"x":1.58,"y":-0.51},{"g":3,"x":2,"y":-0.28},{"g":3,"x":2.51,"y":-0.27},{"g":3,"x":3.16,"y":-0.31},{"g":3,"x":3.98,"y":-0.3},{"g":3,"x":4.82,"y":-0.07},
{"g":4,"x":0.104,"y":-0.76},{"g":4,"x":0.141,"y":-0.82},{"g":4,"x":0.2,"y":-1.19},{"g":4,"x":0.282,"y":-1.45},{"g":4,"x":0.398,"y":-1.45},{"g":4,"x":0.562,"y":-1.51},{"g":4,"x":0.794,"y":-1.72},{"g":4,"x":1,"y":-1.51},{"g":4,"x":1.26,"y":-1.09},{"g":4,"x":1.58,"y":-0.67},{"g":4,"x":2,"y":-0.56},{"g":4,"x":2.51,"y":-0.38},{"g":4,"x":3.16,"y":-0.14},{"g":4,"x":3.98,"y":-0.38},{"g":4,"x":4.82,"y":-1.35}
],
"w4": [
{"g":0,"x":0.104,"y":-0.84},{"g":0,"x":0.141,"y":-0.98},{"g":0,"x":0.2,"y":-1.11},{"g":0,"x":0.282,"y":-1.27},{"g":0,"x":0.398,"y":-1.51},{"g":0,"x":0.562,"y":-1.72},{"g":0,"x":0.794,"y":-1.78},{"g":0,"x":1,"y":-1.56},{"g":0,"x":1.26,"y":-1.17},{"g":0,"x":1.58,"y":-0.59},{"g":0,"x":2,"y":-0.32},{"g":0,"x":2.51,"y":-0.22},{"g":0,"x":3.16,"y":-0.27},{"g":0,"x":3.98,"y":-0.27},{"g":0,"x":4.82,"y":-0.48},
{"g":1,"x":0.104,"y":-1.01},{"g":1,"x":0.141,"y":-1.09},{"g":1,"x":0.2,"y":-1.19},{"g":1,"x":0.282,"y":-1.33},{"g":1,"x":0.398,"y":-1.54},{"g":1,"x":0.562,"y":-1.72},{"g":1,"x":0.794,"y":-1.83},{"g":1,"x":1,"y":-1.75},{"g":1,"x":1.26,"y":-1.25},{"g":1,"x":1.58,"y":-0.64},{"g":1,"x":2,"y":-0.35},{"g":1,"x":2.51,"y":-0.3},{"g":1,"x":3.16,"y":-0.31},{"g":1,"x":3.98,"y":-0.3},{"g":1,"x":4.82,"y":-0.08},
{"g":2,"x":0.104,"y":-1.05},{"g":2,"x":0.141,"y":-1.14},{"g":2,"x":0.2,"y":-1.25},{"g":2,"x":0.282,"y":-1.38},{"g":2,"x":0.398,"y":-1.56},{"g":2,"x":0.562,"y":-1.75},{"g":2,"x":0.794,"y":-1.8},{"g":2,"x":1,"y":-1.78},{"g":2,"x":1.26,"y":-1.3},{"g":2,"x":1.58,"y":-0.67},{"g":2,"x":2,"y":-0.35},{"g":2,"x":2.51,"y":-0.27},{"g":2,"x":3.16,"y":-0.31},{"g":2,"x":3.98,"y":-0.24},{"g":2,"x":4.82,"y":0.1},
{"g":3,"x":0.104,"y":-1.11},{"g":3,"x":0.141,"y":-1.17},{"g":3,"x":0.2,"y":-1.27},{"g":3,"x":0.282,"y":-1.41},{"g":3,"x":0.398,"y":-1.59},{"g":3,"x":0.562,"y":-1.75},{"g":3,"x":0.794,"y":-1.76},{"g":3,"x":1,"y":-1.8},{"g":3,"x":1.26,"y":-1.38},{"g":3,"x":1.58,"y":-0.75},{"g":3,"x":2,"y":-0.38},{"g":3,"x":2.51,"y":-0.19},{"g":3,"x":3.16,"y":-0.19},{"g":3,"x":3.98,"y":-0.28},{"g":3,"x":4.82,"y":-0.22},
{"g":4,"x":0.104,"y":-1.27},{"g":4,"x":0.141,"y":-1.17},{"g":4,"x":0.2,"y":-1.33},{"g":4,"x":0.282,"y":-1.45},{"g":4,"x":0.398,"y":-1.59},{"g":4,"x":0.562,"y":-1.78},{"g":4,"x":0.794,"y":-1.83},{"g":4,"x":1,"y":-1.9},{"g":4,"x":1.26,"y":-1.33},{"g":4,"x":1.58,"y":-0.59},{"g":4,"x":2,"y":-0.22},{"g":4,"x":2.51,"y":-0.14},{"g":4,"x":3.16,"y":-0.27},{"g":4,"x":3.98,"y":-0.34},{"g":4,"x":4.82,"y":-0.16}
]
},
"resolve": {"scale": {"color": "independent"}},
"spacing": -3,
"vconcat": [
{"hconcat": [
{"width":349,"height":377,"data":{"name":"e0"},"resolve":{"axis":{"x":"independent","y":"independent"}},"layer":[
 {"mark":{"type":"line","strokeWidth":3,"clip":true,"interpolate":"monotone"},"encoding":{
  "x":{"field":"x","type":"quantitative","scale":{"type":"log","domain":[0.0871,5.78],"nice":false},"axis":{"orient":"bottom","values":[0.1,1],"title":null}},
  "y":{"field":"y","type":"quantitative","scale":{"domain":[-7.25,3.0],"nice":false,"zero":false},"axis":{"orient":"left","values":[2.5,0,-2.5,-5],"format":".1f","labels":true,"title":"dlogΣEM/dlogr","titleX":-80,"titleBaseline":"alphabetic"}},
  "color":{"field":"g","type":"nominal","scale":{"domain":[0,1,2,3,4],"range":["#ff0000","#ff4000","#ff8000","#ffbf00","#ffff00"]},"legend":{"title":null,"legendX":89.5,"legendY":18.5,"labelExpr":"['c < 0.1','0.1 < c < 0.2','0.2 < c < 0.3','0.3 < c < 0.4','c > 0.4'][datum.value]"}}}},
 {"mark":{"type":"line","opacity":0,"clip":true},"encoding":{
  "x":{"field":"x","type":"quantitative","scale":{"type":"log","domain":[0.0871,5.78],"nice":false},"axis":{"orient":"bottom","values":[0.09,0.2,0.3,0.4,0.5,0.6,0.7,0.8,0.9,2,3,4,5],"tickSize":-7,"title":null}},
  "y":{"field":"y","type":"quantitative","scale":{"domain":[-7.25,3.0],"nice":false,"zero":false},"axis":{"orient":"right","values":[2.5,0,-2.5,-5],"title":null}}}},
 {"mark":{"type":"line","opacity":0,"clip":true},"encoding":{
  "x":{"field":"x","type":"quantitative","scale":{"type":"log","domain":[0.0871,5.78],"nice":false},"axis":{"orient":"top","values":[0.1,1],"title":null}},
  "y":{"field":"y","type":"quantitative","scale":{"domain":[-7.25,3.0],"nice":false,"zero":false},"axis":null}}},
 {"mark":{"type":"line","opacity":0,"clip":true},"encoding":{
  "x":{"field":"x","type":"quantitative","scale":{"type":"log","domain":[0.0871,5.78],"nice":false},"axis":{"orient":"top","values":[0.09,0.2,0.3,0.4,0.5,0.6,0.7,0.8,0.9,2,3,4,5],"tickSize":-7,"title":null}},
  "y":{"field":"y","type":"quantitative","scale":{"domain":[-7.25,3.0],"nice":false,"zero":false},"axis":null}}}
]},
{"width":349,"height":377,"data":{"name":"e1"},"resolve":{"axis":{"x":"independent","y":"independent"}},"layer":[
 {"mark":{"type":"line","strokeWidth":3,"clip":true,"interpolate":"monotone"},"encoding":{
  "x":{"field":"x","type":"quantitative","scale":{"type":"log","domain":[0.0871,5.78],"nice":false},"axis":{"orient":"bottom","values":[0.1,1],"title":null}},
  "y":{"field":"y","type":"quantitative","scale":{"domain":[-7.25,3.0],"nice":false,"zero":false},"axis":{"orient":"left","values":[2.5,0,-2.5,-5],"title":null}},
  "color":{"field":"g","type":"nominal","scale":{"domain":[0,1,2,3,4],"range":["#0000ff","#0040df","#0080bf","#00bf9f","#00ff80"]},"legend":{"title":null,"legendX":89.5,"legendY":18.5,"labelExpr":"['s < 0.05','0.05 < s < 0.5','0.5 < s < 0.95','0.95 < s < 1.4','s > 1.4'][datum.value]"}}}},
 {"mark":{"type":"line","opacity":0,"clip":true},"encoding":{
  "x":{"field":"x","type":"quantitative","scale":{"type":"log","domain":[0.0871,5.78],"nice":false},"axis":{"orient":"bottom","values":[0.09,0.2,0.3,0.4,0.5,0.6,0.7,0.8,0.9,2,3,4,5],"tickSize":-7,"title":null}},
  "y":{"field":"y","type":"quantitative","scale":{"domain":[-7.25,3.0],"nice":false,"zero":false},"axis":{"orient":"right","values":[2.5,0,-2.5,-5],"title":null}}}},
 {"mark":{"type":"line","opacity":0,"clip":true},"encoding":{
  "x":{"field":"x","type":"quantitative","scale":{"type":"log","domain":[0.0871,5.78],"nice":false},"axis":{"orient":"top","values":[0.1,1],"title":null}},
  "y":{"field":"y","type":"quantitative","scale":{"domain":[-7.25,3.0],"nice":false,"zero":false},"axis":null}}},
 {"mark":{"type":"line","opacity":0,"clip":true},"encoding":{
  "x":{"field":"x","type":"quantitative","scale":{"type":"log","domain":[0.0871,5.78],"nice":false},"axis":{"orient":"top","values":[0.09,0.2,0.3,0.4,0.5,0.6,0.7,0.8,0.9,2,3,4,5],"tickSize":-7,"title":null}},
  "y":{"field":"y","type":"quantitative","scale":{"domain":[-7.25,3.0],"nice":false,"zero":false},"axis":null}}}
]},
{"width":349,"height":377,"data":{"name":"e2"},"resolve":{"axis":{"x":"independent","y":"independent"}},"layer":[
 {"mark":{"type":"line","strokeWidth":3,"clip":true,"interpolate":"monotone"},"encoding":{
  "x":{"field":"x","type":"quantitative","scale":{"type":"log","domain":[0.0871,5.78],"nice":false},"axis":{"orient":"bottom","values":[0.1,1],"title":null}},
  "y":{"field":"y","type":"quantitative","scale":{"domain":[-7.25,3.0],"nice":false,"zero":false},"axis":{"orient":"left","values":[2.5,0,-2.5,-5],"title":null}},
  "color":{"field":"g","type":"nominal","scale":{"domain":[0,1,2,3,4],"range":["#000000","#50321f","#9f643f","#ef955f","#ffc77f"]},"legend":{"title":null,"legendX":89.5,"legendY":18.5,"labelExpr":"['a < 0.5','0.5 < a < 0.83','0.83 < a < 1.17','1.17 < a < 1.5','a > 1.5'][datum.value]"}}}},
 {"mark":{"type":"line","opacity":0,"clip":true},"encoding":{
  "x":{"field":"x","type":"quantitative","scale":{"type":"log","domain":[0.0871,5.78],"nice":false},"axis":{"orient":"bottom","values":[0.09,0.2,0.3,0.4,0.5,0.6,0.7,0.8,0.9,2,3,4,5],"tickSize":-7,"title":null}},
  "y":{"field":"y","type":"quantitative","scale":{"domain":[-7.25,3.0],"nice":false,"zero":false},"axis":{"orient":"right","values":[2.5,0,-2.5,-5],"title":null}}}},
 {"mark":{"type":"line","opacity":0,"clip":true},"encoding":{
  "x":{"field":"x","type":"quantitative","scale":{"type":"log","domain":[0.0871,5.78],"nice":false},"axis":{"orient":"top","values":[0.1,1],"title":null}},
  "y":{"field":"y","type":"quantitative","scale":{"domain":[-7.25,3.0],"nice":false,"zero":false},"axis":null}}},
 {"mark":{"type":"line","opacity":0,"clip":true},"encoding":{
  "x":{"field":"x","type":"quantitative","scale":{"type":"log","domain":[0.0871,5.78],"nice":false},"axis":{"orient":"top","values":[0.09,0.2,0.3,0.4,0.5,0.6,0.7,0.8,0.9,2,3,4,5],"tickSize":-7,"title":null}},
  "y":{"field":"y","type":"quantitative","scale":{"domain":[-7.25,3.0],"nice":false,"zero":false},"axis":null}}}
]},
{"width":349,"height":377,"data":{"name":"e3"},"resolve":{"axis":{"x":"independent","y":"independent"}},"layer":[
 {"mark":{"type":"line","strokeWidth":3,"clip":true,"interpolate":"monotone"},"encoding":{
  "x":{"field":"x","type":"quantitative","scale":{"type":"log","domain":[0.0871,5.78],"nice":false},"axis":{"orient":"bottom","values":[0.1,1],"title":null}},
  "y":{"field":"y","type":"quantitative","scale":{"domain":[-7.25,3.0],"nice":false,"zero":false},"axis":{"orient":"left","values":[2.5,0,-2.5,-5],"title":null}},
  "color":{"field":"g","type":"nominal","scale":{"domain":[0,1,2,3,4],"range":["#ff00ff","#ff40bf","#ff8080","#ffbf40","#ffff00"]},"legend":{"title":null,"legendX":89.5,"legendY":18.5,"labelExpr":"['⟨w⟩ < -2.7','-2.7 < ⟨w⟩ < -2.13','-2.13 < ⟨w⟩ < -1.57','-1.57 < ⟨w⟩ < -1.0','⟨w⟩ > -1.0'][datum.value]"}}}},
 {"mark":{"type":"line","opacity":0,"clip":true},"encoding":{
  "x":{"field":"x","type":"quantitative","scale":{"type":"log","domain":[0.0871,5.78],"nice":false},"axis":{"orient":"bottom","values":[0.09,0.2,0.3,0.4,0.5,0.6,0.7,0.8,0.9,2,3,4,5],"tickSize":-7,"title":null}},
  "y":{"field":"y","type":"quantitative","scale":{"domain":[-7.25,3.0],"nice":false,"zero":false},"axis":{"orient":"right","values":[2.5,0,-2.5,-5],"title":null}}}},
 {"mark":{"type":"line","opacity":0,"clip":true},"encoding":{
  "x":{"field":"x","type":"quantitative","scale":{"type":"log","domain":[0.0871,5.78],"nice":false},"axis":{"orient":"top","values":[0.1,1],"title":null}},
  "y":{"field":"y","type":"quantitative","scale":{"domain":[-7.25,3.0],"nice":false,"zero":false},"axis":null}}},
 {"mark":{"type":"line","opacity":0,"clip":true},"encoding":{
  "x":{"field":"x","type":"quantitative","scale":{"type":"log","domain":[0.0871,5.78],"nice":false},"axis":{"orient":"top","values":[0.09,0.2,0.3,0.4,0.5,0.6,0.7,0.8,0.9,2,3,4,5],"tickSize":-7,"title":null}},
  "y":{"field":"y","type":"quantitative","scale":{"domain":[-7.25,3.0],"nice":false,"zero":false},"axis":null}}}
]},
{"width":349,"height":377,"data":{"name":"e4"},"resolve":{"axis":{"x":"independent","y":"independent"}},"layer":[
 {"mark":{"type":"line","strokeWidth":3,"clip":true,"interpolate":"monotone"},"encoding":{
  "x":{"field":"x","type":"quantitative","scale":{"type":"log","domain":[0.0871,5.78],"nice":false},"axis":{"orient":"bottom","values":[0.1,1],"title":null}},
  "y":{"field":"y","type":"quantitative","scale":{"domain":[-7.25,3.0],"nice":false,"zero":false},"axis":{"orient":"left","values":[2.5,0,-2.5,-5],"title":null}},
  "color":{"field":"g","type":"nominal","scale":{"domain":[0,1,2,3,4],"range":["#00ffff","#40bfff","#8080ff","#bf40ff","#ff00ff"]},"legend":{"title":null,"legendX":89.5,"legendY":18.5,"labelExpr":"['M14 < 0.62','0.62 < M14 < 1.25','1.25 < M14 < 1.88','1.88 < M14 < 2.5','M14 > 2.5'][datum.value]"}}}},
 {"mark":{"type":"line","opacity":0,"clip":true},"encoding":{
  "x":{"field":"x","type":"quantitative","scale":{"type":"log","domain":[0.0871,5.78],"nice":false},"axis":{"orient":"bottom","values":[0.09,0.2,0.3,0.4,0.5,0.6,0.7,0.8,0.9,2,3,4,5],"tickSize":-7,"title":null}},
  "y":{"field":"y","type":"quantitative","scale":{"domain":[-7.25,3.0],"nice":false,"zero":false},"axis":{"orient":"right","values":[2.5,0,-2.5,-5],"title":null}}}},
 {"mark":{"type":"line","opacity":0,"clip":true},"encoding":{
  "x":{"field":"x","type":"quantitative","scale":{"type":"log","domain":[0.0871,5.78],"nice":false},"axis":{"orient":"top","values":[0.1,1],"title":null}},
  "y":{"field":"y","type":"quantitative","scale":{"domain":[-7.25,3.0],"nice":false,"zero":false},"axis":null}}},
 {"mark":{"type":"line","opacity":0,"clip":true},"encoding":{
  "x":{"field":"x","type":"quantitative","scale":{"type":"log","domain":[0.0871,5.78],"nice":false},"axis":{"orient":"top","values":[0.09,0.2,0.3,0.4,0.5,0.6,0.7,0.8,0.9,2,3,4,5],"tickSize":-7,"title":null}},
  "y":{"field":"y","type":"quantitative","scale":{"domain":[-7.25,3.0],"nice":false,"zero":false},"axis":null}}}
]}
], "spacing": 0, "bounds": "flush", "resolve": {"scale": {"color": "independent"}}},
{"hconcat": [
{"width":349,"height":377,"data":{"name":"s0"},"resolve":{"axis":{"x":"independent","y":"independent"}},"layer":[
 {"mark":{"type":"line","strokeWidth":3,"clip":true,"interpolate":"monotone"},"encoding":{
  "x":{"field":"x","type":"quantitative","scale":{"type":"log","domain":[0.0871,5.78],"nice":false},"axis":{"orient":"bottom","values":[0.1,1],"title":null}},
  "y":{"field":"y","type":"quantitative","scale":{"domain":[-4.22,0.955],"nice":false,"zero":false},"axis":{"orient":"left","values":[0,-2,-4],"format":"d","labels":true,"title":"dlogΣy/dlogr","titleX":-80,"titleBaseline":"alphabetic"}},
  "color":{"field":"g","type":"nominal","scale":{"domain":[0,1,2,3,4],"range":["#ff0000","#ff4000","#ff8000","#ffbf00","#ffff00"]},"legend":null}}},
 {"mark":{"type":"line","opacity":0,"clip":true},"encoding":{
  "x":{"field":"x","type":"quantitative","scale":{"type":"log","domain":[0.0871,5.78],"nice":false},"axis":{"orient":"bottom","values":[0.09,0.2,0.3,0.4,0.5,0.6,0.7,0.8,0.9,2,3,4,5],"tickSize":-7,"title":null}},
  "y":{"field":"y","type":"quantitative","scale":{"domain":[-4.22,0.955],"nice":false,"zero":false},"axis":{"orient":"right","values":[0,-2,-4],"title":null}}}},
 {"mark":{"type":"line","opacity":0,"clip":true},"encoding":{
  "x":{"field":"x","type":"quantitative","scale":{"type":"log","domain":[0.0871,5.78],"nice":false},"axis":{"orient":"top","values":[0.1,1],"title":null}},
  "y":{"field":"y","type":"quantitative","scale":{"domain":[-4.22,0.955],"nice":false,"zero":false},"axis":null}}},
 {"mark":{"type":"line","opacity":0,"clip":true},"encoding":{
  "x":{"field":"x","type":"quantitative","scale":{"type":"log","domain":[0.0871,5.78],"nice":false},"axis":{"orient":"top","values":[0.09,0.2,0.3,0.4,0.5,0.6,0.7,0.8,0.9,2,3,4,5],"tickSize":-7,"title":null}},
  "y":{"field":"y","type":"quantitative","scale":{"domain":[-4.22,0.955],"nice":false,"zero":false},"axis":null}}}
]},
{"width":349,"height":377,"data":{"name":"s1"},"resolve":{"axis":{"x":"independent","y":"independent"}},"layer":[
 {"mark":{"type":"line","strokeWidth":3,"clip":true,"interpolate":"monotone"},"encoding":{
  "x":{"field":"x","type":"quantitative","scale":{"type":"log","domain":[0.0871,5.78],"nice":false},"axis":{"orient":"bottom","values":[0.1,1],"title":null}},
  "y":{"field":"y","type":"quantitative","scale":{"domain":[-4.22,0.955],"nice":false,"zero":false},"axis":{"orient":"left","values":[0,-2,-4],"title":null}},
  "color":{"field":"g","type":"nominal","scale":{"domain":[0,1,2,3,4],"range":["#0000ff","#0040df","#0080bf","#00bf9f","#00ff80"]},"legend":null}}},
 {"mark":{"type":"line","opacity":0,"clip":true},"encoding":{
  "x":{"field":"x","type":"quantitative","scale":{"type":"log","domain":[0.0871,5.78],"nice":false},"axis":{"orient":"bottom","values":[0.09,0.2,0.3,0.4,0.5,0.6,0.7,0.8,0.9,2,3,4,5],"tickSize":-7,"title":null}},
  "y":{"field":"y","type":"quantitative","scale":{"domain":[-4.22,0.955],"nice":false,"zero":false},"axis":{"orient":"right","values":[0,-2,-4],"title":null}}}},
 {"mark":{"type":"line","opacity":0,"clip":true},"encoding":{
  "x":{"field":"x","type":"quantitative","scale":{"type":"log","domain":[0.0871,5.78],"nice":false},"axis":{"orient":"top","values":[0.1,1],"title":null}},
  "y":{"field":"y","type":"quantitative","scale":{"domain":[-4.22,0.955],"nice":false,"zero":false},"axis":null}}},
 {"mark":{"type":"line","opacity":0,"clip":true},"encoding":{
  "x":{"field":"x","type":"quantitative","scale":{"type":"log","domain":[0.0871,5.78],"nice":false},"axis":{"orient":"top","values":[0.09,0.2,0.3,0.4,0.5,0.6,0.7,0.8,0.9,2,3,4,5],"tickSize":-7,"title":null}},
  "y":{"field":"y","type":"quantitative","scale":{"domain":[-4.22,0.955],"nice":false,"zero":false},"axis":null}}}
]},
{"width":349,"height":377,"data":{"name":"s2"},"resolve":{"axis":{"x":"independent","y":"independent"}},"layer":[
 {"mark":{"type":"line","strokeWidth":3,"clip":true,"interpolate":"monotone"},"encoding":{
  "x":{"field":"x","type":"quantitative","scale":{"type":"log","domain":[0.0871,5.78],"nice":false},"axis":{"orient":"bottom","values":[0.1,1],"title":null}},
  "y":{"field":"y","type":"quantitative","scale":{"domain":[-4.22,0.955],"nice":false,"zero":false},"axis":{"orient":"left","values":[0,-2,-4],"title":null}},
  "color":{"field":"g","type":"nominal","scale":{"domain":[0,1,2,3,4],"range":["#000000","#50321f","#9f643f","#ef955f","#ffc77f"]},"legend":null}}},
 {"mark":{"type":"line","opacity":0,"clip":true},"encoding":{
  "x":{"field":"x","type":"quantitative","scale":{"type":"log","domain":[0.0871,5.78],"nice":false},"axis":{"orient":"bottom","values":[0.09,0.2,0.3,0.4,0.5,0.6,0.7,0.8,0.9,2,3,4,5],"tickSize":-7,"title":null}},
  "y":{"field":"y","type":"quantitative","scale":{"domain":[-4.22,0.955],"nice":false,"zero":false},"axis":{"orient":"right","values":[0,-2,-4],"title":null}}}},
 {"mark":{"type":"line","opacity":0,"clip":true},"encoding":{
  "x":{"field":"x","type":"quantitative","scale":{"type":"log","domain":[0.0871,5.78],"nice":false},"axis":{"orient":"top","values":[0.1,1],"title":null}},
  "y":{"field":"y","type":"quantitative","scale":{"domain":[-4.22,0.955],"nice":false,"zero":false},"axis":null}}},
 {"mark":{"type":"line","opacity":0,"clip":true},"encoding":{
  "x":{"field":"x","type":"quantitative","scale":{"type":"log","domain":[0.0871,5.78],"nice":false},"axis":{"orient":"top","values":[0.09,0.2,0.3,0.4,0.5,0.6,0.7,0.8,0.9,2,3,4,5],"tickSize":-7,"title":null}},
  "y":{"field":"y","type":"quantitative","scale":{"domain":[-4.22,0.955],"nice":false,"zero":false},"axis":null}}}
]},
{"width":349,"height":377,"data":{"name":"s3"},"resolve":{"axis":{"x":"independent","y":"independent"}},"layer":[
 {"mark":{"type":"line","strokeWidth":3,"clip":true,"interpolate":"monotone"},"encoding":{
  "x":{"field":"x","type":"quantitative","scale":{"type":"log","domain":[0.0871,5.78],"nice":false},"axis":{"orient":"bottom","values":[0.1,1],"title":null}},
  "y":{"field":"y","type":"quantitative","scale":{"domain":[-4.22,0.955],"nice":false,"zero":false},"axis":{"orient":"left","values":[0,-2,-4],"title":null}},
  "color":{"field":"g","type":"nominal","scale":{"domain":[0,1,2,3,4],"range":["#ff00ff","#ff40bf","#ff8080","#ffbf40","#ffff00"]},"legend":null}}},
 {"mark":{"type":"line","opacity":0,"clip":true},"encoding":{
  "x":{"field":"x","type":"quantitative","scale":{"type":"log","domain":[0.0871,5.78],"nice":false},"axis":{"orient":"bottom","values":[0.09,0.2,0.3,0.4,0.5,0.6,0.7,0.8,0.9,2,3,4,5],"tickSize":-7,"title":null}},
  "y":{"field":"y","type":"quantitative","scale":{"domain":[-4.22,0.955],"nice":false,"zero":false},"axis":{"orient":"right","values":[0,-2,-4],"title":null}}}},
 {"mark":{"type":"line","opacity":0,"clip":true},"encoding":{
  "x":{"field":"x","type":"quantitative","scale":{"type":"log","domain":[0.0871,5.78],"nice":false},"axis":{"orient":"top","values":[0.1,1],"title":null}},
  "y":{"field":"y","type":"quantitative","scale":{"domain":[-4.22,0.955],"nice":false,"zero":false},"axis":null}}},
 {"mark":{"type":"line","opacity":0,"clip":true},"encoding":{
  "x":{"field":"x","type":"quantitative","scale":{"type":"log","domain":[0.0871,5.78],"nice":false},"axis":{"orient":"top","values":[0.09,0.2,0.3,0.4,0.5,0.6,0.7,0.8,0.9,2,3,4,5],"tickSize":-7,"title":null}},
  "y":{"field":"y","type":"quantitative","scale":{"domain":[-4.22,0.955],"nice":false,"zero":false},"axis":null}}}
]},
{"width":349,"height":377,"data":{"name":"s4"},"resolve":{"axis":{"x":"independent","y":"independent"}},"layer":[
 {"mark":{"type":"line","strokeWidth":3,"clip":true,"interpolate":"monotone"},"encoding":{
  "x":{"field":"x","type":"quantitative","scale":{"type":"log","domain":[0.0871,5.78],"nice":false},"axis":{"orient":"bottom","values":[0.1,1],"title":null}},
  "y":{"field":"y","type":"quantitative","scale":{"domain":[-4.22,0.955],"nice":false,"zero":false},"axis":{"orient":"left","values":[0,-2,-4],"title":null}},
  "color":{"field":"g","type":"nominal","scale":{"domain":[0,1,2,3,4],"range":["#00ffff","#40bfff","#8080ff","#bf40ff","#ff00ff"]},"legend":null}}},
 {"mark":{"type":"line","opacity":0,"clip":true},"encoding":{
  "x":{"field":"x","type":"quantitative","scale":{"type":"log","domain":[0.0871,5.78],"nice":false},"axis":{"orient":"bottom","values":[0.09,0.2,0.3,0.4,0.5,0.6,0.7,0.8,0.9,2,3,4,5],"tickSize":-7,"title":null}},
  "y":{"field":"y","type":"quantitative","scale":{"domain":[-4.22,0.955],"nice":false,"zero":false},"axis":{"orient":"right","values":[0,-2,-4],"title":null}}}},
 {"mark":{"type":"line","opacity":0,"clip":true},"encoding":{
  "x":{"field":"x","type":"quantitative","scale":{"type":"log","domain":[0.0871,5.78],"nice":false},"axis":{"orient":"top","values":[0.1,1],"title":null}},
  "y":{"field":"y","type":"quantitative","scale":{"domain":[-4.22,0.955],"nice":false,"zero":false},"axis":null}}},
 {"mark":{"type":"line","opacity":0,"clip":true},"encoding":{
  "x":{"field":"x","type":"quantitative","scale":{"type":"log","domain":[0.0871,5.78],"nice":false},"axis":{"orient":"top","values":[0.09,0.2,0.3,0.4,0.5,0.6,0.7,0.8,0.9,2,3,4,5],"tickSize":-7,"title":null}},
  "y":{"field":"y","type":"quantitative","scale":{"domain":[-4.22,0.955],"nice":false,"zero":false},"axis":null}}}
]}
], "spacing": 0, "bounds": "flush", "resolve": {"scale": {"color": "independent"}}},
{"hconcat": [
{"width":349,"height":377,"data":{"name":"w0"},"resolve":{"axis":{"x":"independent","y":"independent"}},"layer":[
 {"mark":{"type":"line","strokeWidth":3,"clip":true,"interpolate":"monotone"},"encoding":{
  "x":{"field":"x","type":"quantitative","scale":{"type":"log","domain":[0.0871,5.78],"nice":false},"axis":{"orient":"bottom","values":[0.1,1],"labels":true,"labelExpr":"datum.value < 0.5 ? '10⁻¹' : '10⁰'","title":null}},
  "y":{"field":"y","type":"quantitative","scale":{"domain":[-2.067,0.92],"nice":false,"zero":false},"axis":{"orient":"left","values":[0,-1,-2],"format":"d","labels":true,"title":"dlogΣWL/dlogr","titleX":-80,"titleBaseline":"alphabetic"}},
  "color":{"field":"g","type":"nominal","scale":{"domain":[0,1,2,3,4],"range":["#ff0000","#ff4000","#ff8000","#ffbf00","#ffff00"]},"legend":null}}},
 {"mark":{"type":"line","opacity":0,"clip":true},"encoding":{
  "x":{"field":"x","type":"quantitative","scale":{"type":"log","domain":[0.0871,5.78],"nice":false},"axis":{"orient":"bottom","values":[0.09,0.2,0.3,0.4,0.5,0.6,0.7,0.8,0.9,2,3,4,5],"tickSize":-7,"title":null}},
  "y":{"field":"y","type":"quantitative","scale":{"domain":[-2.067,0.92],"nice":false,"zero":false},"axis":{"orient":"right","values":[0,-1,-2],"title":null}}}},
 {"mark":{"type":"line","opacity":0,"clip":true},"encoding":{
  "x":{"field":"x","type":"quantitative","scale":{"type":"log","domain":[0.0871,5.78],"nice":false},"axis":{"orient":"top","values":[0.1,1],"title":null}},
  "y":{"field":"y","type":"quantitative","scale":{"domain":[-2.067,0.92],"nice":false,"zero":false},"axis":null}}},
 {"mark":{"type":"line","opacity":0,"clip":true},"encoding":{
  "x":{"field":"x","type":"quantitative","scale":{"type":"log","domain":[0.0871,5.78],"nice":false},"axis":{"orient":"top","values":[0.09,0.2,0.3,0.4,0.5,0.6,0.7,0.8,0.9,2,3,4,5],"tickSize":-7,"title":null}},
  "y":{"field":"y","type":"quantitative","scale":{"domain":[-2.067,0.92],"nice":false,"zero":false},"axis":null}}}
]},
{"width":349,"height":377,"data":{"name":"w1"},"resolve":{"axis":{"x":"independent","y":"independent"}},"layer":[
 {"mark":{"type":"line","strokeWidth":3,"clip":true,"interpolate":"monotone"},"encoding":{
  "x":{"field":"x","type":"quantitative","scale":{"type":"log","domain":[0.0871,5.78],"nice":false},"axis":{"orient":"bottom","values":[0.1,1],"labels":true,"labelExpr":"datum.value < 0.5 ? '10⁻¹' : '10⁰'","title":null}},
  "y":{"field":"y","type":"quantitative","scale":{"domain":[-2.067,0.92],"nice":false,"zero":false},"axis":{"orient":"left","values":[0,-1,-2],"title":null}},
  "color":{"field":"g","type":"nominal","scale":{"domain":[0,1,2,3,4],"range":["#0000ff","#0040df","#0080bf","#00bf9f","#00ff80"]},"legend":null}}},
 {"mark":{"type":"line","opacity":0,"clip":true},"encoding":{
  "x":{"field":"x","type":"quantitative","scale":{"type":"log","domain":[0.0871,5.78],"nice":false},"axis":{"orient":"bottom","values":[0.09,0.2,0.3,0.4,0.5,0.6,0.7,0.8,0.9,2,3,4,5],"tickSize":-7,"title":null}},
  "y":{"field":"y","type":"quantitative","scale":{"domain":[-2.067,0.92],"nice":false,"zero":false},"axis":{"orient":"right","values":[0,-1,-2],"title":null}}}},
 {"mark":{"type":"line","opacity":0,"clip":true},"encoding":{
  "x":{"field":"x","type":"quantitative","scale":{"type":"log","domain":[0.0871,5.78],"nice":false},"axis":{"orient":"top","values":[0.1,1],"title":null}},
  "y":{"field":"y","type":"quantitative","scale":{"domain":[-2.067,0.92],"nice":false,"zero":false},"axis":null}}},
 {"mark":{"type":"line","opacity":0,"clip":true},"encoding":{
  "x":{"field":"x","type":"quantitative","scale":{"type":"log","domain":[0.0871,5.78],"nice":false},"axis":{"orient":"top","values":[0.09,0.2,0.3,0.4,0.5,0.6,0.7,0.8,0.9,2,3,4,5],"tickSize":-7,"title":null}},
  "y":{"field":"y","type":"quantitative","scale":{"domain":[-2.067,0.92],"nice":false,"zero":false},"axis":null}}}
]},
{"width":349,"height":377,"data":{"name":"w2"},"resolve":{"axis":{"x":"independent","y":"independent"}},"layer":[
 {"mark":{"type":"line","strokeWidth":3,"clip":true,"interpolate":"monotone"},"encoding":{
  "x":{"field":"x","type":"quantitative","scale":{"type":"log","domain":[0.0871,5.78],"nice":false},"axis":{"orient":"bottom","values":[0.1,1],"labels":true,"labelExpr":"datum.value < 0.5 ? '10⁻¹' : '10⁰'","title":"R/R₂₀₀ₘ","titleX":199,"titleY":110,"titleBaseline":"alphabetic","titleFontSize":32}},
  "y":{"field":"y","type":"quantitative","scale":{"domain":[-2.067,0.92],"nice":false,"zero":false},"axis":{"orient":"left","values":[0,-1,-2],"title":null}},
  "color":{"field":"g","type":"nominal","scale":{"domain":[0,1,2,3,4],"range":["#000000","#50321f","#9f643f","#ef955f","#ffc77f"]},"legend":null}}},
 {"mark":{"type":"line","opacity":0,"clip":true},"encoding":{
  "x":{"field":"x","type":"quantitative","scale":{"type":"log","domain":[0.0871,5.78],"nice":false},"axis":{"orient":"bottom","values":[0.09,0.2,0.3,0.4,0.5,0.6,0.7,0.8,0.9,2,3,4,5],"tickSize":-7,"title":null}},
  "y":{"field":"y","type":"quantitative","scale":{"domain":[-2.067,0.92],"nice":false,"zero":false},"axis":{"orient":"right","values":[0,-1,-2],"title":null}}}},
 {"mark":{"type":"line","opacity":0,"clip":true},"encoding":{
  "x":{"field":"x","type":"quantitative","scale":{"type":"log","domain":[0.0871,5.78],"nice":false},"axis":{"orient":"top","values":[0.1,1],"title":null}},
  "y":{"field":"y","type":"quantitative","scale":{"domain":[-2.067,0.92],"nice":false,"zero":false},"axis":null}}},
 {"mark":{"type":"line","opacity":0,"clip":true},"encoding":{
  "x":{"field":"x","type":"quantitative","scale":{"type":"log","domain":[0.0871,5.78],"nice":false},"axis":{"orient":"top","values":[0.09,0.2,0.3,0.4,0.5,0.6,0.7,0.8,0.9,2,3,4,5],"tickSize":-7,"title":null}},
  "y":{"field":"y","type":"quantitative","scale":{"domain":[-2.067,0.92],"nice":false,"zero":false},"axis":null}}}
]},
{"width":349,"height":377,"data":{"name":"w3"},"resolve":{"axis":{"x":"independent","y":"independent"}},"layer":[
 {"mark":{"type":"line","strokeWidth":3,"clip":true,"interpolate":"monotone"},"encoding":{
  "x":{"field":"x","type":"quantitative","scale":{"type":"log","domain":[0.0871,5.78],"nice":false},"axis":{"orient":"bottom","values":[0.1,1],"labels":true,"labelExpr":"datum.value < 0.5 ? '10⁻¹' : '10⁰'","title":null}},
  "y":{"field":"y","type":"quantitative","scale":{"domain":[-2.067,0.92],"nice":false,"zero":false},"axis":{"orient":"left","values":[0,-1,-2],"title":null}},
  "color":{"field":"g","type":"nominal","scale":{"domain":[0,1,2,3,4],"range":["#ff00ff","#ff40bf","#ff8080","#ffbf40","#ffff00"]},"legend":null}}},
 {"mark":{"type":"line","opacity":0,"clip":true},"encoding":{
  "x":{"field":"x","type":"quantitative","scale":{"type":"log","domain":[0.0871,5.78],"nice":false},"axis":{"orient":"bottom","values":[0.09,0.2,0.3,0.4,0.5,0.6,0.7,0.8,0.9,2,3,4,5],"tickSize":-7,"title":null}},
  "y":{"field":"y","type":"quantitative","scale":{"domain":[-2.067,0.92],"nice":false,"zero":false},"axis":{"orient":"right","values":[0,-1,-2],"title":null}}}},
 {"mark":{"type":"line","opacity":0,"clip":true},"encoding":{
  "x":{"field":"x","type":"quantitative","scale":{"type":"log","domain":[0.0871,5.78],"nice":false},"axis":{"orient":"top","values":[0.1,1],"title":null}},
  "y":{"field":"y","type":"quantitative","scale":{"domain":[-2.067,0.92],"nice":false,"zero":false},"axis":null}}},
 {"mark":{"type":"line","opacity":0,"clip":true},"encoding":{
  "x":{"field":"x","type":"quantitative","scale":{"type":"log","domain":[0.0871,5.78],"nice":false},"axis":{"orient":"top","values":[0.09,0.2,0.3,0.4,0.5,0.6,0.7,0.8,0.9,2,3,4,5],"tickSize":-7,"title":null}},
  "y":{"field":"y","type":"quantitative","scale":{"domain":[-2.067,0.92],"nice":false,"zero":false},"axis":null}}}
]},
{"width":349,"height":377,"data":{"name":"w4"},"resolve":{"axis":{"x":"independent","y":"independent"}},"layer":[
 {"mark":{"type":"line","strokeWidth":3,"clip":true,"interpolate":"monotone"},"encoding":{
  "x":{"field":"x","type":"quantitative","scale":{"type":"log","domain":[0.0871,5.78],"nice":false},"axis":{"orient":"bottom","values":[0.1,1],"labels":true,"labelExpr":"datum.value < 0.5 ? '10⁻¹' : '10⁰'","title":null}},
  "y":{"field":"y","type":"quantitative","scale":{"domain":[-2.067,0.92],"nice":false,"zero":false},"axis":{"orient":"left","values":[0,-1,-2],"title":null}},
  "color":{"field":"g","type":"nominal","scale":{"domain":[0,1,2,3,4],"range":["#00ffff","#40bfff","#8080ff","#bf40ff","#ff00ff"]},"legend":null}}},
 {"mark":{"type":"line","opacity":0,"clip":true},"encoding":{
  "x":{"field":"x","type":"quantitative","scale":{"type":"log","domain":[0.0871,5.78],"nice":false},"axis":{"orient":"bottom","values":[0.09,0.2,0.3,0.4,0.5,0.6,0.7,0.8,0.9,2,3,4,5],"tickSize":-7,"title":null}},
  "y":{"field":"y","type":"quantitative","scale":{"domain":[-2.067,0.92],"nice":false,"zero":false},"axis":{"orient":"right","values":[0,-1,-2],"title":null}}}},
 {"mark":{"type":"line","opacity":0,"clip":true},"encoding":{
  "x":{"field":"x","type":"quantitative","scale":{"type":"log","domain":[0.0871,5.78],"nice":false},"axis":{"orient":"top","values":[0.1,1],"title":null}},
  "y":{"field":"y","type":"quantitative","scale":{"domain":[-2.067,0.92],"nice":false,"zero":false},"axis":null}}},
 {"mark":{"type":"line","opacity":0,"clip":true},"encoding":{
  "x":{"field":"x","type":"quantitative","scale":{"type":"log","domain":[0.0871,5.78],"nice":false},"axis":{"orient":"top","values":[0.09,0.2,0.3,0.4,0.5,0.6,0.7,0.8,0.9,2,3,4,5],"tickSize":-7,"title":null}},
  "y":{"field":"y","type":"quantitative","scale":{"domain":[-2.067,0.92],"nice":false,"zero":false},"axis":null}}}
]}
], "spacing": 0, "bounds": "flush", "resolve": {"scale": {"color": "independent"}}}
]
}
